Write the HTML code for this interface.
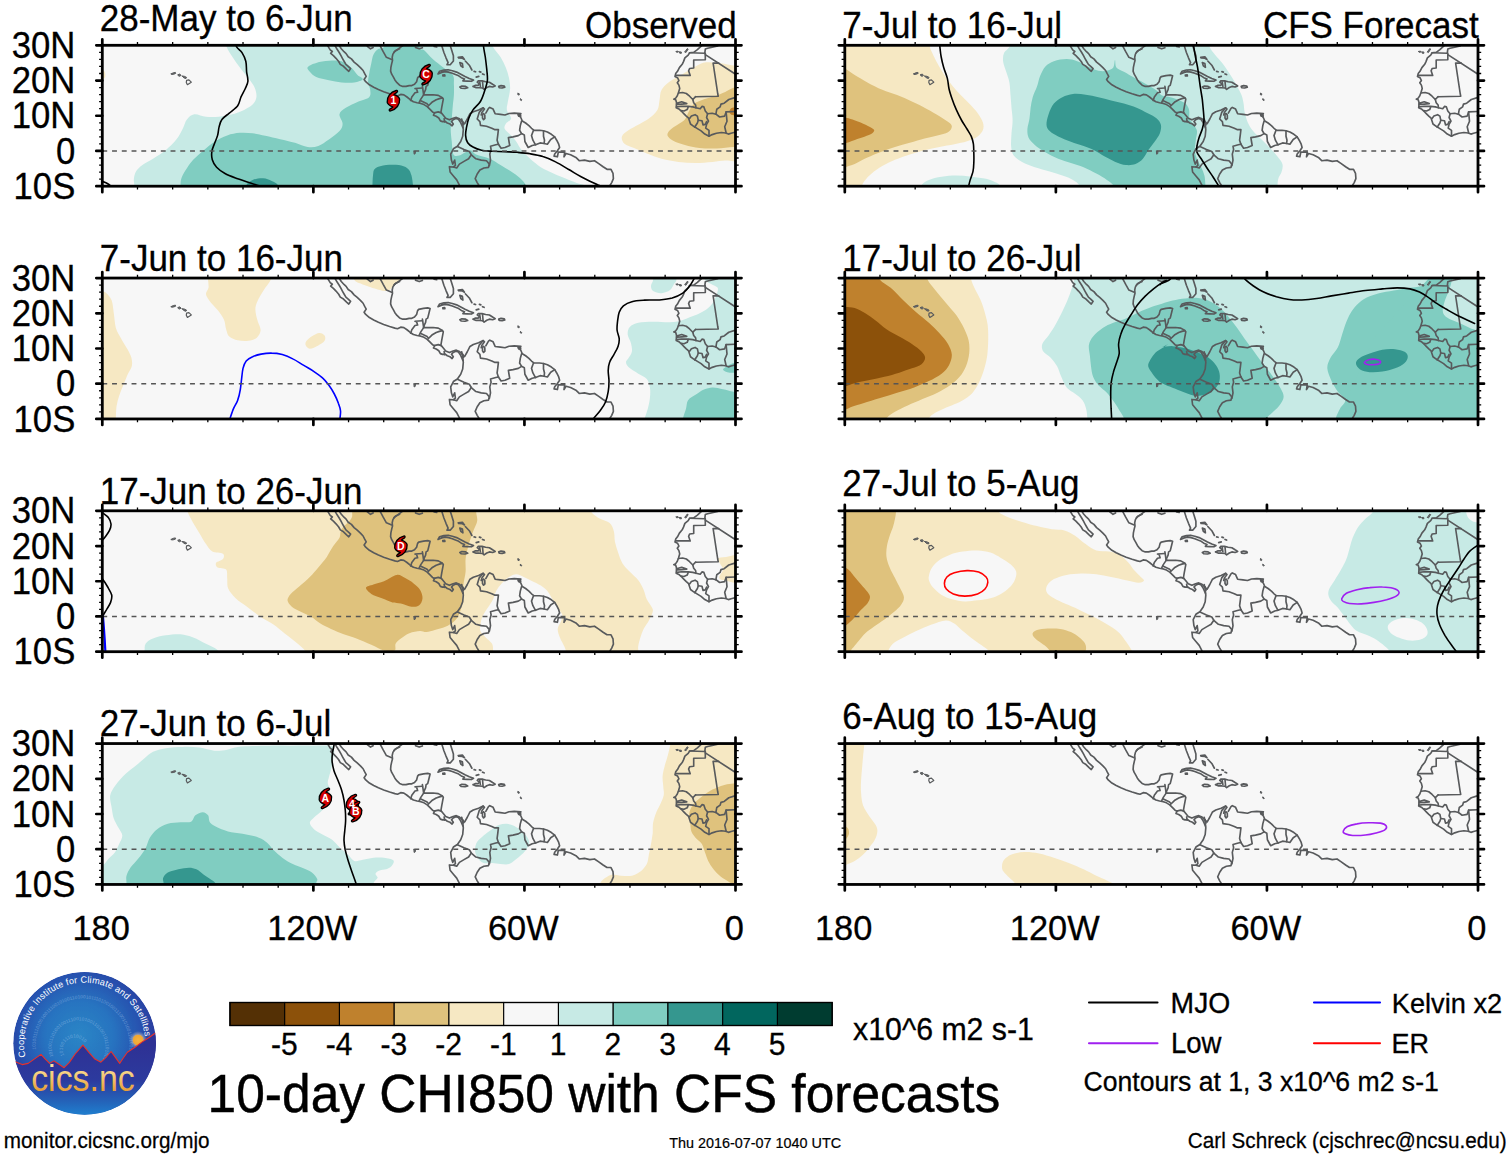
<!DOCTYPE html>
<html><head><meta charset="utf-8"><title>10-day CHI850 with CFS forecasts</title>
<style>html,body{margin:0;padding:0;background:#fff;}body{width:1510px;height:1158px;overflow:hidden;font-family:"Liberation Sans",sans-serif;}svg{display:block;}text{font-family:"Liberation Sans",sans-serif;fill:#000;}</style></head><body>
<svg width="1510" height="1158" viewBox="0 0 1510 1158">
<rect width="1510" height="1158" fill="#fff"/>
<defs>
<clipPath id="pc"><rect x="0" y="0" width="633.2" height="140.9"/></clipPath>
<g id="coast" fill="none" stroke="#585a5c" stroke-width="1.65" stroke-linejoin="round" stroke-linecap="round">
<path d="M225.3 0.3 L227.9 4.6 L230.0 6.2 L228.4 8.1 L231.1 10.4 L233.7 13.0 L236.4 16.2 L238.0 19.1 L241.2 21.0 L244.3 24.0 L246.5 26.0 L248.3 23.3 L245.9 21.0 L243.6 19.1 L241.9 16.2 L240.1 13.0 L238.7 10.4 L236.9 7.2 L234.8 4.0 L232.7 0.3"/>
<path d="M236.9 0.3 L239.0 3.5 L241.7 6.4 L243.8 8.3 L245.9 11.5 L249.1 13.6 L251.8 16.8 L254.9 19.4 L258.1 22.3 L260.8 25.2 L262.4 28.4 L263.9 31.1 L261.8 34.2 L263.4 36.4 L267.1 39.5 L271.4 42.0 L276.1 44.3 L281.4 46.4 L287.3 48.5 L292.6 50.1 L295.2 50.7 L298.4 49.1 L301.6 49.6 L304.7 51.7 L307.9 54.4 L311.1 56.5 L314.8 57.5 L318.5 58.1 L321.7 59.3 L324.9 61.3 L327.5 63.9 L330.2 66.6 L332.3 67.6 L331.2 69.9 L333.9 71.0 L336.5 72.7 L338.1 75.6 L340.2 76.3 L342.9 76.1 L345.0 77.7 L347.7 78.7 L349.8 80.5 L351.0 78.7 L349.2 76.3 L350.8 74.5 L353.5 73.1 L356.1 74.0 L358.0 76.6 L359.5 79.8 L360.6 82.4"/>
<path d="M300.5 0.3 L295.7 3.8 L292.3 6.2 L290.6 8.8 L289.9 12.0 L290.2 15.2 L289.4 18.3 L288.6 22.0 L288.3 25.8 L289.4 28.9 L291.0 31.6 L292.6 34.6 L294.7 37.4 L297.3 39.9 L300.5 41.1 L303.7 41.1 L306.9 40.3 L309.5 40.3 L312.2 39.0 L314.3 36.4 L315.3 32.6 L316.4 31.3 L321.2 30.3 L325.4 29.8 L327.8 30.5 L327.0 33.7 L326.2 36.9 L325.4 40.1 L323.8 41.1 L323.3 44.3 L322.0 47.0 L321.2 49.6 L325.4 49.6 L330.7 49.4 L336.0 50.1 L339.7 52.2 L341.0 53.8 L340.2 58.1 L339.4 62.3 L338.6 67.1 L340.8 69.7 L343.4 72.9 L347.1 74.5 L350.8 72.9 L354.0 72.1 L357.2 73.4 L359.8 76.1 L362.0 78.2"/>
<path d="M289.4 14.1 L284.1 12.0 L280.9 6.4 L277.7 0.3"/>
<path d="M265.0 1.1 L268.2 3.5 L270.8 2.1"/>
<path d="M291.5 7.2 L293.6 5.1 L297.3 3.5"/>
<path d="M313.2 2.1 L316.9 3.5 L320.1 2.4"/>
<path d="M331.8 1.1 L334.4 1.7"/>
<path d="M308.4 55.1 L309.5 51.7 L312.7 47.5 L315.3 47.0 L314.3 43.8 L312.7 43.2 L320.1 42.7"/>
<path d="M320.1 41.1 L320.6 44.3 L321.2 48.5"/>
<path d="M321.7 49.1 L318.5 53.8 L316.9 57.0"/>
<path d="M318.5 55.4 L324.3 58.1 L325.9 59.7"/>
<path d="M325.9 60.7 L329.6 57.0 L333.9 54.4 L337.1 53.3 L340.2 52.6"/>
<path d="M331.8 67.6 L336.0 66.6 L339.0 67.6"/>
<path d="M341.8 73.4 L342.4 76.6"/>
<path d="M360.4 76.1 L361.2 79.3"/>
<path d="M339.4 0.3 L341.6 7.2 L343.7 12.5 L345.8 17.3 L344.7 19.4 L347.9 19.4 L351.1 15.7 L351.1 10.4 L349.5 5.1 L347.9 0.3"/>
<path d="M355.9 12.0 L360.1 11.5 L362.2 14.1 L360.1 13.0 L356.4 12.7"/>
<path d="M357.5 17.3 L360.1 18.3 L360.6 22.0 L358.5 20.5 L357.5 17.3"/>
<path d="M363.0 15.7 L367.0 19.9 L369.6 24.7"/>
<path d="M371.8 26.1 L373.3 26.5"/>
<path d="M377.1 26.3 L378.6 26.8"/>
<path d="M380.2 28.6 L381.8 29.3"/>
<path d="M373.9 31.8 L376.5 31.1"/>
<path d="M335.7 28.6 L337.3 26.0 L341.6 24.7 L345.8 24.4 L350.0 25.4 L354.3 26.8 L358.5 28.9 L362.7 31.1 L367.0 33.2 L371.2 34.8 L369.1 36.0 L364.9 35.8 L360.6 35.6 L362.2 33.7 L359.0 32.4 L356.4 30.5 L353.2 29.3 L350.0 27.9 L346.3 26.8 L342.6 26.3 L339.4 27.1 L335.7 28.6"/>
<path d="M340.5 29.7 L342.4 29.5 L342.6 30.7 L340.7 30.7 L340.5 29.7"/>
<path d="M357.5 41.7 L359.6 40.8 L363.3 41.1 L365.4 42.4 L362.7 43.2 L359.0 43.0 L357.5 41.7"/>
<path d="M370.7 41.1 L372.8 40.1 L376.0 40.1 L377.1 38.5 L374.9 36.9 L376.0 35.6 L379.7 35.6 L383.4 36.4 L387.1 36.9 L390.3 39.0 L392.9 40.6 L390.3 41.7 L387.1 41.1 L384.5 42.2 L381.8 44.1 L380.2 42.7 L377.1 42.4 L373.9 42.4 L370.7 41.1"/>
<path d="M380.2 36.0 L380.8 42.7"/>
<path d="M377.4 36.7 L378.1 41.1"/>
<path d="M396.4 41.1 L398.8 40.3 L402.0 40.7 L402.5 42.0 L399.8 42.7 L396.9 42.4 L396.4 41.1"/>
<path d="M359.4 73.7 L360.4 78.4 L361.0 84.3 L360.4 90.9 L358.4 96.2 L355.1 100.9 L351.1 103.5 L348.4 108.8 L349.1 114.8 L350.4 118.8 L352.4 114.8 L353.1 120.1 L351.1 121.7 L347.1 121.4 L347.8 126.7 L351.1 130.7 L354.4 134.6 L357.1 139.9"/>
<path d="M355.1 101.3 L361.7 104.2 L367.0 106.2 L369.0 109.5 L366.3 113.5 L361.7 116.1 L357.1 118.8 L354.4 122.7 L351.1 121.7"/>
<path d="M369.0 109.5 L373.6 113.5 L378.9 114.8 L384.2 115.4 L386.9 118.8 L386.2 122.1 L381.6 122.7 L377.6 124.7 L374.9 128.7 L372.9 133.3 L374.9 137.3 L376.5 139.9"/>
<path d="M387.1 120.3 L388.2 114.8 L387.5 108.8 L388.8 104.2 L388.2 100.9 L393.5 99.5 L396.1 98.9"/>
<path d="M380.9 62.5 L376.9 67.1 L374.9 73.7 L377.6 76.4 L378.2 80.1 L384.2 81.0 L389.5 83.0 L392.2 84.3 L396.1 84.3 L395.5 89.6 L394.8 94.9 L396.1 98.9"/>
<path d="M396.1 98.9 L398.8 102.9 L402.7 102.2 L407.4 100.2 L406.7 96.2 L406.1 92.3 L410.7 91.6 L416.0 90.3 L419.3 88.3"/>
<path d="M419.3 75.7 L418.0 80.3 L417.3 85.0 L419.3 88.3 L422.0 89.6 L422.6 96.2 L425.9 102.2 L429.9 100.2 L433.2 99.5"/>
<path d="M431.2 85.0 L429.2 90.3 L430.6 94.9 L433.2 99.5 L437.8 97.6 L441.8 98.2"/>
<path d="M441.2 85.6 L441.2 90.9 L442.2 94.9 L441.8 98.2 L445.1 98.9 L448.4 94.2 L452.4 91.6"/>
<path d="M362.4 78.4 L365.0 73.7 L367.7 68.4 L371.0 66.4 L376.3 64.7 L380.9 62.5 L382.2 63.8 L379.6 67.1 L378.9 69.7"/>
<path d="M380.2 69.1 L381.3 68.2 L382.5 69.7 L382.6 73.1 L381.3 74.4 L380.2 72.7 L380.2 69.1"/>
<path d="M383.5 67.8 L386.2 63.1 L387.5 62.1 L390.8 63.8 L392.8 68.4 L398.1 69.1 L402.7 69.7 L406.7 68.2 L412.0 67.8 L418.6 68.2 L416.3 69.7 L418.6 72.4 L420.0 75.7 L423.3 77.7 L426.6 80.3 L429.2 83.0 L431.9 85.0 L437.2 85.0 L441.2 85.4 L445.1 86.7 L449.1 89.0 L452.4 91.6 L454.4 94.9 L456.4 98.9 L457.3 102.2 L455.1 105.5 L452.4 108.8 L451.8 110.8 L455.1 111.5 L456.0 106.8 L462.4 106.8 L461.7 111.5 L463.7 108.2 L468.3 109.5 L473.6 112.1 L476.9 115.4 L482.2 114.8 L487.5 116.1 L492.2 115.4 L496.1 118.1 L500.8 121.4 L504.7 124.0 L508.7 124.0 L510.7 128.0 L511.1 133.3 L509.4 137.3 L507.8 139.9"/>
<path d="M415.7 69.1 L418.0 68.7 L418.4 70.8 L416.3 70.8 L415.7 69.1"/>
<path d="M599.7 0.1 L595.1 4.3 L591.4 7.0 L587.3 7.5 L585.9 9.8 L582.6 12.6 L581.2 16.3 L579.9 19.0 L577.1 22.3 L575.2 26.0 L573.4 28.3 L572.7 31.1 L575.2 32.4 L576.6 35.2 L575.0 37.5 L576.6 39.8 L577.4 43.1 L576.2 47.2 L575.0 50.5 L573.4 52.8 L571.5 53.9 L573.4 54.4 L574.3 57.4 L573.9 62.5 L577.1 64.0 L579.4 66.2 L581.7 68.5 L584.0 70.8 L586.3 72.9 L587.3 75.9 L588.2 78.7 L591.4 81.0 L595.1 83.3 L598.8 85.6 L602.5 88.8 L606.7 90.9 L609.9 89.3 L614.1 87.9 L619.1 87.2 L623.3 87.7 L626.1 88.8 L628.8 87.9 L632.5 87.0"/>
<path d="M587.3 7.5 L602.5 7.9 L603.0 3.8 L605.3 2.9 L609.9 1.9 L615.4 0.6"/>
<path d="M603.0 7.9 L603.0 14.4 L591.4 14.7 L591.4 22.7 L587.3 23.2 L586.3 25.5 L587.9 30.1 L573.4 30.1"/>
<path d="M603.0 9.3 L632.5 28.5"/>
<path d="M616.4 17.8 L610.8 17.7 L615.4 48.2 L615.9 50.9 L593.3 51.4"/>
<path d="M576.2 47.7 L580.3 47.2 L584.0 48.2 L587.3 50.9 L590.5 54.2 L593.3 51.4"/>
<path d="M590.5 54.2 L591.4 57.4 L593.3 59.7 L593.7 62.5"/>
<path d="M574.3 57.9 L579.4 56.5 L584.5 58.3 L579.4 58.8 L574.3 59.2"/>
<path d="M574.3 61.6 L579.4 60.9 L585.9 61.1 L590.5 61.6 L593.7 62.5 L597.9 63.4 L599.7 61.1 L601.6 61.6 L603.0 65.7 L605.3 68.5 L609.9 68.0 L613.6 68.9"/>
<path d="M585.9 61.6 L584.9 64.3 L581.7 65.7 L578.9 65.3"/>
<path d="M587.3 73.1 L589.1 70.8 L592.8 69.4 L595.1 70.8 L596.0 75.0 L595.1 77.7 L593.3 80.5 L592.3 81.9"/>
<path d="M596.0 75.0 L599.7 75.4 L600.7 79.6 L603.0 79.1 L604.3 76.3"/>
<path d="M605.3 68.5 L604.3 72.2 L606.2 75.9 L604.3 79.1 L603.4 82.8 L606.7 85.1 L606.7 90.9"/>
<path d="M613.6 68.9 L614.5 63.9 L617.8 61.6 L618.7 58.8 L621.9 57.9 L626.5 54.2 L632.5 52.3"/>
<path d="M613.6 68.9 L617.3 71.7 L622.4 70.8 L623.8 66.6 L632.5 66.2"/>
<path d="M623.8 66.6 L624.7 75.9 L622.4 81.4 L623.8 87.4"/>
<path d="M311.6 105.8 L313.2 106.0 L312.9 108.4 L311.8 108.9 L311.6 105.8" stroke-width="1.0" fill="#6a6c6e"/>
<path d="M415.7 48.0 L417.0 48.5 L416.8 49.8 L415.5 49.4 L415.7 48.0" stroke-width="1.0" fill="#6a6c6e"/>
<path d="M418.1 53.6 L419.5 54.5 L419.1 55.3 L417.8 54.5 L418.1 53.6" stroke-width="1.0" fill="#6a6c6e"/>
<path d="M573.9 6.1 L575.7 5.8 L576.2 6.7 L574.3 7.0 L573.9 6.1" stroke-width="1.0" fill="#6a6c6e"/>
<path d="M577.1 6.7 L578.9 6.6 L579.2 7.9 L577.5 8.0 L577.1 6.7" stroke-width="1.0" fill="#6a6c6e"/>
<path d="M582.6 6.6 L584.9 3.3 L585.9 3.8 L583.6 7.3 L582.6 6.6" stroke-width="1.0" fill="#6a6c6e"/>
<path d="M68.9 28.5 L71.0 27.5 L73.1 27.1 L73.4 28.1 L71.5 28.9 L69.2 29.2 L68.9 28.5" stroke-width="1.0" fill="#6a6c6e"/>
<path d="M75.8 29.4 L77.4 28.8 L78.7 30.0 L77.4 31.0 L76.0 30.5 L75.8 29.4" stroke-width="1.0" fill="#6a6c6e"/>
<path d="M79.8 30.7 L82.1 31.0 L84.3 32.1 L83.7 33.2 L81.6 32.6 L79.8 30.7" stroke-width="1.0" fill="#6a6c6e"/>
<path d="M84.3 35.0 L86.6 34.5 L89.0 36.9 L85.1 39.4 L84.0 37.1 L84.3 35.0" stroke-width="1.2" fill="none"/>
</g>
<g id="frame" stroke="#000" fill="none">
<line x1="0" y1="105.67" x2="633.20" y2="105.67" stroke="#555" stroke-width="1.4" stroke-dasharray="4.9 4.85"/>
<rect x="0" y="0" width="633.20" height="140.90" stroke-width="2.8"/>
<path d="M-6.00 140.90 H0.00 M633.20 140.90 H639.20" stroke-width="2.7" stroke-linecap="round"/>
<path d="M-3.20 133.85 H0.00 M633.20 133.85 H636.40" stroke-width="1.3"/>
<path d="M-3.20 126.81 H0.00 M633.20 126.81 H636.40" stroke-width="1.3"/>
<path d="M-3.20 119.77 H0.00 M633.20 119.77 H636.40" stroke-width="1.3"/>
<path d="M-3.20 112.72 H0.00 M633.20 112.72 H636.40" stroke-width="1.3"/>
<path d="M-6.00 105.67 H0.00 M633.20 105.67 H639.20" stroke-width="2.7" stroke-linecap="round"/>
<path d="M-3.20 98.63 H0.00 M633.20 98.63 H636.40" stroke-width="1.3"/>
<path d="M-3.20 91.58 H0.00 M633.20 91.58 H636.40" stroke-width="1.3"/>
<path d="M-3.20 84.54 H0.00 M633.20 84.54 H636.40" stroke-width="1.3"/>
<path d="M-3.20 77.50 H0.00 M633.20 77.50 H636.40" stroke-width="1.3"/>
<path d="M-6.00 70.45 H0.00 M633.20 70.45 H639.20" stroke-width="2.7" stroke-linecap="round"/>
<path d="M-3.20 63.41 H0.00 M633.20 63.41 H636.40" stroke-width="1.3"/>
<path d="M-3.20 56.36 H0.00 M633.20 56.36 H636.40" stroke-width="1.3"/>
<path d="M-3.20 49.31 H0.00 M633.20 49.31 H636.40" stroke-width="1.3"/>
<path d="M-3.20 42.27 H0.00 M633.20 42.27 H636.40" stroke-width="1.3"/>
<path d="M-6.00 35.23 H0.00 M633.20 35.23 H639.20" stroke-width="2.7" stroke-linecap="round"/>
<path d="M-3.20 28.18 H0.00 M633.20 28.18 H636.40" stroke-width="1.3"/>
<path d="M-3.20 21.13 H0.00 M633.20 21.13 H636.40" stroke-width="1.3"/>
<path d="M-3.20 14.09 H0.00 M633.20 14.09 H636.40" stroke-width="1.3"/>
<path d="M-3.20 7.04 H0.00 M633.20 7.04 H636.40" stroke-width="1.3"/>
<path d="M-6.00 0.00 H0.00 M633.20 0.00 H639.20" stroke-width="2.7" stroke-linecap="round"/>
<path d="M0.00 -6.00 V0.00 M0.00 140.90 V146.90" stroke-width="2.7" stroke-linecap="round"/>
<path d="M35.18 -3.20 V0.00 M35.18 140.90 V144.10" stroke-width="1.3"/>
<path d="M70.36 -3.20 V0.00 M70.36 140.90 V144.10" stroke-width="1.3"/>
<path d="M105.53 -3.20 V0.00 M105.53 140.90 V144.10" stroke-width="1.3"/>
<path d="M140.71 -3.20 V0.00 M140.71 140.90 V144.10" stroke-width="1.3"/>
<path d="M175.89 -3.20 V0.00 M175.89 140.90 V144.10" stroke-width="1.3"/>
<path d="M211.07 -6.00 V0.00 M211.07 140.90 V146.90" stroke-width="2.7" stroke-linecap="round"/>
<path d="M246.24 -3.20 V0.00 M246.24 140.90 V144.10" stroke-width="1.3"/>
<path d="M281.42 -3.20 V0.00 M281.42 140.90 V144.10" stroke-width="1.3"/>
<path d="M316.60 -3.20 V0.00 M316.60 140.90 V144.10" stroke-width="1.3"/>
<path d="M351.78 -3.20 V0.00 M351.78 140.90 V144.10" stroke-width="1.3"/>
<path d="M386.96 -3.20 V0.00 M386.96 140.90 V144.10" stroke-width="1.3"/>
<path d="M422.13 -6.00 V0.00 M422.13 140.90 V146.90" stroke-width="2.7" stroke-linecap="round"/>
<path d="M457.31 -3.20 V0.00 M457.31 140.90 V144.10" stroke-width="1.3"/>
<path d="M492.49 -3.20 V0.00 M492.49 140.90 V144.10" stroke-width="1.3"/>
<path d="M527.67 -3.20 V0.00 M527.67 140.90 V144.10" stroke-width="1.3"/>
<path d="M562.84 -3.20 V0.00 M562.84 140.90 V144.10" stroke-width="1.3"/>
<path d="M598.02 -3.20 V0.00 M598.02 140.90 V144.10" stroke-width="1.3"/>
<path d="M633.20 -6.00 V0.00 M633.20 140.90 V146.90" stroke-width="2.7" stroke-linecap="round"/>
</g>
<g id="tc"><path d="M-6.2 1.5C-6.6 -4 -3 -8.6 2.8 -10.2C4.2 -10.5 4.6 -9.2 3.6 -8.4C2.2 -7.6 1.2 -6.8 0.6 -6.2C4 -5.4 6.2 -2.5 6.2 -1.5C6.6 4 3 8.6 -2.8 10.2C-4.2 10.5 -4.6 9.2 -3.6 8.4C-2.2 7.6 -1.2 6.8 -0.6 6.2C-4 5.4 -6.2 2.5 -6.2 1.5Z" fill="#d40000" stroke="#000" stroke-width="1.35" stroke-linejoin="round"/></g>
</defs>
<g transform="translate(102.30 45.30)">
<g clip-path="url(#pc)">
<rect x="0" y="0" width="633.2" height="140.9" fill="#f7f7f7"/>
<path d="M122.7 -7.4C123.0 -5.9 123.2 -1.5 124.4 1.7C125.7 4.9 128.0 8.2 130.2 11.7C132.3 15.1 134.9 18.7 137.6 22.2C140.2 25.8 143.6 29.5 146.0 32.8C148.5 36.2 151.1 39.2 152.4 42.4C153.7 45.6 154.5 49.1 154.1 51.9C153.7 54.7 152.3 57.2 150.3 59.3C148.2 61.5 145.3 63.0 141.8 64.6C138.3 66.3 133.3 68.2 129.1 69.3C124.9 70.4 120.6 71.1 116.4 71.4C112.1 71.8 107.7 71.8 103.7 71.4C99.6 71.0 95.2 68.4 92.0 68.9C88.8 69.3 86.5 71.7 84.6 74.2C82.6 76.6 82.1 80.4 80.3 83.7C78.6 87.1 76.8 90.8 74.0 94.3C71.2 97.8 67.3 101.7 63.4 104.9C59.5 108.1 54.6 110.9 50.7 113.4C46.8 115.8 42.9 117.6 40.1 119.7C37.3 121.9 35.1 123.8 33.7 126.1C32.3 128.4 31.9 131.2 31.6 133.5C31.3 135.8 31.9 137.2 32.0 139.9C32.1 142.5 -43.3 147.8 32.2 149.4C107.8 151.0 410.0 150.9 485.1 149.4C560.2 147.9 484.8 142.4 483.0 140.5C481.2 138.6 477.7 138.9 474.5 137.7C471.3 136.6 467.8 135.1 463.9 133.5C460.0 131.9 455.4 130.2 451.2 128.2C447.0 126.3 442.4 124.3 438.5 121.9C434.6 119.4 431.1 116.2 427.9 113.4C424.7 110.5 421.7 107.7 419.4 104.9C417.1 102.1 415.9 98.9 414.1 96.4C412.4 93.9 410.8 92.2 408.8 90.1C406.9 87.9 403.4 85.6 402.5 83.7C401.6 81.8 402.5 80.2 403.5 78.4C404.6 76.6 408.6 75.4 408.8 73.1C409.0 70.8 405.1 67.5 404.6 64.6C404.1 61.8 405.1 59.7 405.6 56.2C406.2 52.6 407.6 47.3 407.8 43.4C407.9 39.6 407.4 36.4 406.7 32.8C406.0 29.3 404.9 25.8 403.5 22.2C402.1 18.7 400.3 15.1 398.2 11.7C396.1 8.2 392.4 4.9 390.8 1.7C389.2 -1.5 389.0 -5.9 388.7 -7.4Z" fill="#c7eae5"/>
<path d="M78.2 149.4C78.2 147.8 78.1 142.7 78.2 139.9C78.4 137.0 78.2 135.3 79.3 132.4C80.3 129.6 82.6 125.9 84.6 122.9C86.5 119.9 88.1 117.4 90.9 114.4C93.8 111.4 98.0 107.9 101.5 104.9C105.1 101.9 108.3 98.9 112.1 96.4C116.0 93.9 120.6 91.5 124.9 90.1C129.1 88.6 133.3 87.9 137.6 87.5C141.8 87.2 146.0 87.5 150.3 87.9C154.5 88.4 158.4 89.5 163.0 90.5C167.6 91.5 172.9 92.7 177.8 93.9C182.8 95.0 188.1 96.2 192.7 97.5C197.3 98.8 201.5 101.2 205.4 101.7C209.3 102.2 212.4 101.9 216.0 100.7C219.5 99.4 223.0 96.8 226.6 94.3C230.1 91.8 234.9 88.5 237.2 85.8C239.5 83.2 240.3 81.2 240.3 78.4C240.3 75.6 236.6 71.5 237.2 68.9C237.7 66.2 240.3 64.6 243.5 62.5C246.7 60.4 252.4 57.9 256.2 56.2C260.1 54.4 264.9 53.9 266.8 51.9C268.8 50.0 268.1 47.0 267.9 44.5C267.7 42.0 266.0 39.7 265.8 37.1C265.6 34.4 266.3 31.8 266.8 28.6C267.4 25.4 268.3 21.2 269.0 18.0C269.7 14.8 270.0 11.8 271.1 9.5C272.1 7.2 273.5 5.5 275.3 4.2C277.1 2.9 280.3 3.6 281.7 1.7C283.1 -0.2 278.5 -5.9 283.8 -7.4C289.1 -8.9 307.8 -9.2 313.5 -7.4C319.1 -5.7 316.3 1.1 317.7 3.2C319.1 5.2 319.8 3.1 321.9 4.9C324.1 6.6 327.2 10.9 330.4 13.8C333.6 16.7 337.7 19.6 341.0 22.2C344.4 24.9 348.8 26.8 350.5 29.7C352.3 32.5 351.4 35.8 351.6 39.2C351.8 42.6 351.8 46.3 351.6 49.8C351.4 53.3 350.9 56.5 350.5 60.4C350.2 64.3 349.8 69.2 349.5 73.1C349.1 77.0 348.4 79.8 348.4 83.7C348.4 87.6 349.0 92.2 349.5 96.4C349.9 100.7 349.9 106.8 351.2 109.1C352.4 111.4 354.9 110.5 356.9 110.2C358.9 109.8 361.3 107.9 363.3 107.0C365.2 106.1 366.8 104.5 368.6 104.9C370.3 105.3 370.7 107.7 373.9 109.1C377.0 110.5 383.6 111.6 387.6 113.4C391.7 115.1 394.7 117.6 398.2 119.7C401.8 121.9 405.6 124.0 408.8 126.1C412.0 128.2 414.8 130.2 417.3 132.4C419.8 134.7 422.2 137.0 423.7 139.9C425.1 142.7 425.4 147.8 425.8 149.4Z" fill="#80cdc1"/>
<path d="M205.4 21.8C206.4 20.3 210.3 18.6 213.9 17.6C217.4 16.5 222.3 15.8 226.6 15.5C230.8 15.2 235.6 14.8 239.3 15.9C243.0 17.0 246.2 20.0 248.8 22.2C251.5 24.5 253.2 27.7 255.2 29.7C257.1 31.6 261.0 32.7 260.5 33.9C260.0 35.1 255.5 36.6 252.0 37.1C248.5 37.6 243.5 37.4 239.3 37.1C235.1 36.7 230.8 35.8 226.6 35.0C222.3 34.1 217.0 33.2 213.9 31.8C210.7 30.4 208.9 28.1 207.5 26.5C206.1 24.8 204.3 23.3 205.4 21.8Z" fill="#80cdc1"/>
<path d="M270.0 149.4C270.1 146.2 270.1 134.7 270.7 130.3C271.2 125.9 271.0 124.7 273.2 122.9C275.4 121.1 279.9 120.3 283.8 119.7C287.7 119.2 293.0 119.2 296.5 119.7C300.0 120.3 302.9 121.1 305.0 122.9C307.1 124.7 308.1 125.9 309.2 130.3C310.4 134.7 311.3 146.2 311.8 149.4Z" fill="#35978f"/>
<path d="M142.9 149.4C143.0 147.8 142.7 142.3 143.9 139.9C145.2 137.4 147.5 135.7 150.3 134.6C153.1 133.4 157.7 132.7 160.9 132.9C164.1 133.0 166.9 134.5 169.4 135.6C171.8 136.8 174.5 137.6 175.7 139.9C176.9 142.2 176.6 147.8 176.8 149.4Z" fill="#35978f"/>
<path d="M-1.2 23.3C-0.1 22.8 1.7 25.1 2.4 26.5C3.0 27.9 3.4 30.3 2.8 31.8C2.2 33.3 -0.0 35.7 -1.2 35.4C-2.4 35.0 -4.4 31.7 -4.4 29.7C-4.4 27.7 -2.4 23.8 -1.2 23.3Z" fill="#f6e8c3"/>
<path d="M644.1 20.1C641.9 20.1 635.6 20.5 631.3 20.1C627.1 19.8 623.2 18.5 618.6 18.0C614.0 17.5 608.0 16.4 603.8 17.0C599.6 17.5 597.1 19.2 593.2 21.2C589.3 23.1 584.7 26.1 580.5 28.6C576.2 31.1 571.3 33.4 567.8 36.0C564.2 38.7 561.1 41.3 559.3 44.5C557.5 47.7 557.9 51.7 557.2 55.1C556.5 58.5 556.8 61.6 555.1 64.6C553.3 67.6 550.1 70.5 546.6 73.1C543.0 75.8 537.7 78.2 533.9 80.5C530.0 82.8 525.7 84.9 523.3 86.9C520.9 88.8 519.6 90.2 519.4 92.2C519.3 94.1 520.2 96.8 522.2 98.5C524.3 100.3 528.0 101.2 531.7 102.8C535.4 104.4 539.9 106.3 544.5 108.1C549.0 109.8 554.0 112.0 559.3 113.4C564.6 114.8 570.6 115.8 576.2 116.6C581.9 117.3 587.5 117.6 593.2 117.6C598.8 117.6 605.2 117.0 610.2 116.6C615.1 116.1 619.3 115.2 622.9 115.1C626.4 115.0 627.8 115.7 631.3 115.9C634.9 116.2 641.9 116.4 644.1 116.6Z" fill="#f6e8c3"/>
<path d="M644.1 40.3C641.9 40.6 634.9 41.3 631.3 42.4C627.8 43.4 626.0 45.2 622.9 46.6C619.7 48.0 615.8 49.6 612.3 50.9C608.7 52.1 605.0 52.8 601.7 54.0C598.3 55.3 594.6 56.3 592.1 58.3C589.7 60.2 588.4 63.0 586.8 65.7C585.2 68.3 584.5 71.9 582.6 74.2C580.7 76.5 577.7 77.7 575.2 79.5C572.7 81.2 569.4 83.0 567.8 84.8C566.1 86.5 564.7 88.3 565.2 90.1C565.8 91.8 568.0 93.8 570.9 95.4C573.8 97.0 578.2 98.4 582.6 99.6C587.0 100.8 592.1 102.2 597.4 102.8C602.7 103.4 608.7 103.4 614.4 103.2C620.0 103.0 626.4 102.0 631.3 101.7C636.3 101.5 641.9 101.7 644.1 101.7Z" fill="#dfc27d"/>
<path d="M639.8 61.5C638.4 61.6 633.3 61.7 631.3 62.1C629.4 62.4 628.9 62.8 628.2 63.6C627.5 64.4 627.0 65.8 627.1 66.8C627.2 67.7 628.1 68.8 628.8 69.3C629.5 69.8 629.5 69.8 631.3 69.9C633.2 70.1 638.4 70.1 639.8 70.1Z" fill="#bf812d"/>
<use href="#coast"/>
<path d="M133.3 -4.2C133.5 -3.3 133.3 -0.2 134.4 1.7C135.4 3.6 138.2 5.0 139.7 7.4C141.2 9.8 142.7 12.7 143.5 15.9C144.3 19.1 144.0 23.1 144.3 26.5C144.7 29.8 145.9 33.2 145.6 36.0C145.4 38.9 144.0 40.8 142.9 43.4C141.7 46.1 139.9 49.1 138.6 51.9C137.4 54.7 137.4 57.7 135.4 60.4C133.5 63.0 129.6 65.5 127.0 67.8C124.3 70.1 121.2 71.9 119.6 74.2C117.9 76.5 117.5 78.9 116.8 81.6C116.1 84.2 116.1 87.2 115.3 90.1C114.5 92.9 113.1 95.9 112.1 98.5C111.2 101.2 109.9 103.3 109.6 106.0C109.2 108.6 109.2 111.8 110.0 114.4C110.8 117.1 112.1 119.6 114.3 121.9C116.4 124.1 119.2 126.3 122.7 128.2C126.3 130.2 131.2 131.9 135.4 133.5C139.7 135.1 144.6 136.6 148.2 137.7C151.7 138.9 153.8 139.6 156.6 140.5C159.5 141.4 163.7 142.6 165.1 143.0" fill="none" stroke="#000" stroke-width="1.60" stroke-linejoin="round" stroke-linecap="round"/>
<path d="M-4.4 133.5C-3.9 133.9 -2.7 134.9 -1.2 135.6C0.2 136.3 2.5 136.9 4.1 137.7C5.6 138.6 7.2 139.6 8.3 140.5C9.4 141.4 10.1 142.6 10.4 143.0" fill="none" stroke="#000" stroke-width="1.60" stroke-linejoin="round" stroke-linecap="round"/>
<path d="M380.9 -4.2C380.9 -3.3 380.9 -1.0 381.3 1.7C381.6 4.3 382.4 7.9 383.0 11.7C383.5 15.4 384.1 20.5 384.5 24.4C384.8 28.3 385.4 31.4 385.1 35.0C384.7 38.5 383.5 42.0 382.3 45.6C381.2 49.1 380.0 53.0 378.1 56.2C376.2 59.3 372.6 61.8 370.7 64.6C368.7 67.5 367.5 70.3 366.4 73.1C365.4 75.9 364.9 78.8 364.3 81.6C363.8 84.4 363.1 87.4 363.3 90.1C363.4 92.7 364.1 95.5 365.4 97.5C366.6 99.4 368.4 100.5 370.7 101.7C373.0 103.0 376.0 104.2 379.2 104.9C382.3 105.6 385.9 105.7 389.8 106.0C393.6 106.2 398.2 106.2 402.5 106.4C406.7 106.6 410.9 106.7 415.2 107.0C419.4 107.4 423.7 107.8 427.9 108.5C432.1 109.2 436.4 109.9 440.6 111.3C444.9 112.6 449.1 114.4 453.3 116.6C457.6 118.7 461.8 121.5 466.0 124.0C470.3 126.4 474.5 129.1 478.8 131.4C483.0 133.7 488.3 136.2 491.5 137.7C494.7 139.3 495.7 139.6 497.8 140.5C500.0 141.4 503.1 142.6 504.2 143.0" fill="none" stroke="#000" stroke-width="1.60" stroke-linejoin="round" stroke-linecap="round"/>
<use href="#tc" x="291.1" y="55.4"/>
<use href="#tc" x="323.8" y="29.4"/>
<text x="291.1" y="59.2" font-size="10.5" font-weight="bold" text-anchor="middle" style="fill:#fff">1</text>
<text x="323.8" y="33.2" font-size="10.5" font-weight="bold" text-anchor="middle" style="fill:#fff">C</text>
</g>
<use href="#frame"/>

</g>
<text transform="translate(99.80 30.80) scale(1 1.045)" font-size="35.00" stroke="#000" stroke-width="0.30">28-May to 6-Jun</text>
<text transform="translate(75.30 57.90) scale(1 1.045)" font-size="34.70" text-anchor="end" stroke="#000" stroke-width="0.30">30N</text>
<text transform="translate(75.30 93.12) scale(1 1.045)" font-size="34.70" text-anchor="end" stroke="#000" stroke-width="0.30">20N</text>
<text transform="translate(75.30 128.35) scale(1 1.045)" font-size="34.70" text-anchor="end" stroke="#000" stroke-width="0.30">10N</text>
<text transform="translate(75.30 163.57) scale(1 1.045)" font-size="34.70" text-anchor="end" stroke="#000" stroke-width="0.30">0</text>
<text transform="translate(75.30 198.80) scale(1 1.045)" font-size="34.70" text-anchor="end" stroke="#000" stroke-width="0.30">10S</text>
<g transform="translate(102.30 278.05)">
<g clip-path="url(#pc)">
<rect x="0" y="0" width="633.2" height="140.9" fill="#f7f7f7"/>
<path d="M-6.5 11.9C-5.7 12.1 -3.0 12.4 -1.2 13.0C0.5 13.5 2.3 13.5 4.1 15.1C5.8 16.7 8.1 19.1 9.4 22.5C10.6 25.9 10.8 30.6 11.5 35.2C12.2 39.8 12.4 45.8 13.6 50.0C14.8 54.3 16.9 57.1 18.9 60.6C20.8 64.2 23.6 68.1 25.2 71.2C26.9 74.4 28.4 76.9 29.1 79.7C29.8 82.5 30.1 85.4 29.5 88.2C28.9 91.0 26.7 93.5 25.2 96.7C23.8 99.9 22.4 103.7 21.0 107.3C19.6 110.8 17.9 114.3 16.8 117.9C15.6 121.4 14.8 124.8 14.2 128.5C13.7 132.2 13.7 136.6 13.6 140.1C13.5 143.6 13.6 148.1 13.6 149.7L-8.0 148.9Z" fill="#f6e8c3"/>
<path d="M105.8 -7.2C105.8 -5.7 105.7 -0.9 105.8 1.9C105.9 4.8 106.6 7.4 106.2 9.8C105.9 12.2 103.4 13.8 103.7 16.1C103.9 18.4 106.0 20.9 107.9 23.6C109.8 26.2 113.0 29.0 115.3 32.0C117.6 35.0 120.3 38.4 121.7 41.6C123.1 44.8 122.9 48.3 123.8 51.1C124.7 53.9 125.0 56.7 127.0 58.5C128.9 60.4 132.3 61.6 135.4 62.3C138.6 63.0 142.9 63.2 146.0 62.8C149.2 62.3 152.5 61.4 154.5 59.6C156.6 57.8 158.2 54.8 158.3 52.2C158.5 49.5 156.4 46.5 155.6 43.7C154.8 40.9 153.8 37.9 153.5 35.2C153.1 32.6 152.8 30.6 153.5 27.8C154.2 25.0 156.1 21.3 157.7 18.3C159.3 15.3 161.2 12.5 163.0 9.8C164.8 7.1 167.1 4.8 168.3 1.9C169.5 -0.9 170.1 -5.7 170.4 -7.2Z" fill="#f6e8c3"/>
<path d="M204.3 62.8C205.4 61.3 207.5 59.4 209.6 58.1C211.7 56.8 214.9 55.0 217.0 54.9C219.2 54.8 221.5 56.2 222.3 57.5C223.2 58.8 223.4 61.1 222.3 62.8C221.3 64.4 218.5 66.1 216.0 67.4C213.5 68.8 209.6 70.9 207.5 70.8C205.4 70.7 203.8 68.3 203.3 67.0C202.7 65.7 203.3 64.2 204.3 62.8Z" fill="#f6e8c3"/>
<path d="M249.9 -7.2C250.2 -5.7 250.6 -0.2 252.0 1.9C253.4 4.1 255.9 4.4 258.4 5.5C260.8 6.7 264.4 7.8 266.8 8.7C269.3 9.6 270.7 10.1 273.2 10.8C275.7 11.6 279.4 12.8 281.7 13.0C284.0 13.1 285.2 13.0 287.0 11.9C288.7 10.8 290.3 8.3 292.3 6.6C294.2 4.9 297.2 4.2 298.6 1.9C300.0 -0.4 300.4 -5.7 300.7 -7.2Z" fill="#f6e8c3"/>
<path d="M550.8 -7.2C550.8 -5.7 551.2 -0.5 550.8 1.9C550.5 4.4 548.7 5.8 548.7 7.7C548.7 9.5 549.0 11.7 550.8 13.0C552.6 14.2 556.5 15.3 559.3 15.1C562.1 14.9 565.6 13.5 567.8 11.9C569.9 10.3 570.9 7.2 572.0 5.5C573.1 3.9 573.7 4.1 574.1 1.9C574.5 -0.2 574.5 -5.7 574.5 -7.2Z" fill="#c7eae5"/>
<path d="M600.6 -7.2C601.0 -5.7 601.1 -0.4 602.7 1.9C604.3 4.2 608.0 5.3 610.2 6.6C612.3 7.9 614.7 8.2 615.4 9.8C616.2 11.4 615.1 13.8 614.4 16.1C613.7 18.4 612.6 21.3 611.2 23.6C609.8 25.9 608.2 28.0 605.9 29.9C603.6 31.9 600.6 33.6 597.4 35.2C594.3 36.8 590.0 38.2 586.8 39.5C583.7 40.7 581.5 41.9 578.4 42.6C575.2 43.4 572.4 43.9 567.8 44.1C563.2 44.3 556.1 43.6 550.8 43.7C545.5 43.8 539.9 43.9 536.0 44.8C532.1 45.6 529.3 47.0 527.5 49.0C525.7 50.9 525.2 53.8 525.4 56.4C525.6 59.1 527.9 62.1 528.6 64.9C529.3 67.7 530.0 70.9 529.6 73.4C529.3 75.8 527.4 78.0 526.4 79.7C525.5 81.5 523.7 82.4 523.7 84.0C523.7 85.5 524.4 87.3 526.4 89.3C528.5 91.2 533.0 93.7 536.0 95.6C539.0 97.6 542.5 98.6 544.5 100.9C546.4 103.2 547.1 106.2 547.6 109.4C548.2 112.6 548.0 116.5 547.6 120.0C547.3 123.5 546.4 127.1 545.5 130.6C544.6 134.0 543.0 137.6 542.3 140.8C541.6 143.9 541.5 148.2 541.3 149.7L641.2 148.9L641.2 -8.0Z" fill="#c7eae5"/>
<path d="M579.4 149.7C579.6 148.2 579.8 143.9 580.5 140.8C581.2 137.6 582.8 133.7 583.7 130.6C584.5 127.5 584.2 124.4 585.8 122.1C587.4 119.8 590.5 118.6 593.2 116.8C595.8 115.0 598.8 112.7 601.7 111.5C604.5 110.3 607.0 109.5 610.2 109.4C613.3 109.3 617.2 110.4 620.7 111.1C624.3 111.8 627.5 113.0 631.3 113.6C635.2 114.2 641.9 114.5 644.1 114.7L641.2 148.9Z" fill="#80cdc1"/>
<path d="M644.1 82.9C641.9 83.3 634.5 84.1 631.3 85.0C628.2 85.9 626.8 87.1 625.0 88.2C623.2 89.3 620.7 90.4 620.7 91.4C620.7 92.4 623.2 93.6 625.0 94.1C626.8 94.7 628.2 94.4 631.3 94.6C634.5 94.7 641.9 94.9 644.1 95.0Z" fill="#80cdc1"/>
<use href="#coast"/>
<path d="M126.5 144.4C126.7 143.8 126.8 143.0 127.6 140.8C128.4 138.5 129.9 133.7 131.2 130.6C132.5 127.5 134.3 125.3 135.4 122.1C136.6 118.9 137.4 115.0 138.0 111.5C138.6 108.0 138.8 104.4 139.3 100.9C139.7 97.4 140.0 93.3 140.7 90.3C141.5 87.3 142.3 84.8 143.9 82.9C145.5 81.0 147.8 79.8 150.3 78.7C152.8 77.5 155.6 76.7 158.8 76.1C161.9 75.5 165.8 75.0 169.4 75.1C172.9 75.1 176.4 75.6 180.0 76.5C183.5 77.5 187.0 79.0 190.5 80.8C194.1 82.5 197.6 85.0 201.1 87.1C204.7 89.3 208.6 91.4 211.7 93.5C214.9 95.6 217.7 97.6 220.2 99.9C222.7 102.1 224.6 104.6 226.6 107.3C228.5 109.9 230.3 112.7 231.9 115.7C233.5 118.7 235.1 122.5 236.1 125.3C237.2 128.1 238.0 130.1 238.2 132.7C238.5 135.3 237.8 138.8 237.6 140.8C237.3 142.7 236.9 143.8 236.7 144.4" fill="none" stroke="#0000ff" stroke-width="1.60" stroke-linejoin="round" stroke-linecap="round"/>
<path d="M593.2 -1.9C592.8 -1.2 592.1 0.2 591.1 1.9C590.0 3.7 588.6 6.5 586.8 8.7C585.1 10.9 583.3 13.2 580.5 15.1C577.7 17.0 573.8 18.8 569.9 20.0C566.0 21.1 561.8 21.5 557.2 21.9C552.6 22.2 546.9 21.8 542.3 22.1C537.7 22.4 533.2 22.6 529.6 23.6C526.1 24.5 523.3 26.0 521.1 27.8C519.0 29.6 517.9 31.5 516.9 34.2C515.9 36.8 515.6 40.7 515.2 43.7C514.9 46.7 514.5 49.3 514.8 52.2C515.1 55.0 516.7 58.0 516.9 60.6C517.1 63.3 516.7 65.4 515.8 68.1C515.0 70.7 513.0 73.9 511.6 76.5C510.2 79.2 508.3 81.3 507.4 84.0C506.4 86.6 506.0 89.3 505.9 92.4C505.8 95.6 506.7 99.5 506.7 103.0C506.7 106.6 506.5 110.1 505.9 113.6C505.3 117.2 504.5 121.0 503.1 124.2C501.8 127.4 499.8 130.0 497.8 132.7C495.9 135.3 493.1 138.2 491.5 140.1C489.9 142.1 488.8 143.6 488.3 144.4" fill="none" stroke="#000" stroke-width="1.60" stroke-linejoin="round" stroke-linecap="round"/>
</g>
<use href="#frame"/>

</g>
<text transform="translate(99.80 270.75) scale(1 1.045)" font-size="35.00" stroke="#000" stroke-width="0.30">7-Jun to 16-Jun</text>
<text transform="translate(75.30 290.65) scale(1 1.045)" font-size="34.70" text-anchor="end" stroke="#000" stroke-width="0.30">30N</text>
<text transform="translate(75.30 325.88) scale(1 1.045)" font-size="34.70" text-anchor="end" stroke="#000" stroke-width="0.30">20N</text>
<text transform="translate(75.30 361.10) scale(1 1.045)" font-size="34.70" text-anchor="end" stroke="#000" stroke-width="0.30">10N</text>
<text transform="translate(75.30 396.33) scale(1 1.045)" font-size="34.70" text-anchor="end" stroke="#000" stroke-width="0.30">0</text>
<text transform="translate(75.30 431.55) scale(1 1.045)" font-size="34.70" text-anchor="end" stroke="#000" stroke-width="0.30">10S</text>
<g transform="translate(102.30 510.80)">
<g clip-path="url(#pc)">
<rect x="0" y="0" width="633.2" height="140.9" fill="#f7f7f7"/>
<path d="M84.6 -6.9C84.8 -5.5 84.6 -1.6 85.6 1.6C86.7 4.7 89.0 8.6 90.9 12.2C92.9 15.7 95.2 19.2 97.3 22.7C99.4 26.3 101.5 30.3 103.7 33.3C105.8 36.3 107.2 39.2 110.0 40.8C112.8 42.4 118.8 41.6 120.6 42.9C122.4 44.1 121.7 46.7 120.6 48.2C119.5 49.7 114.7 50.6 113.8 52.0C112.9 53.4 113.7 55.5 115.3 56.7C117.0 57.8 122.2 57.0 123.8 58.8C125.4 60.5 124.5 64.1 124.9 67.3C125.2 70.4 124.5 74.5 125.9 77.8C127.3 81.2 130.0 84.2 133.3 87.4C136.7 90.6 141.8 93.7 146.0 96.9C150.3 100.1 154.5 103.6 158.8 106.5C163.0 109.3 167.6 111.2 171.5 113.9C175.4 116.5 178.5 119.5 182.1 122.4C185.6 125.2 189.1 127.8 192.7 130.8C196.2 133.8 200.8 137.2 203.3 140.4C205.7 143.5 152.0 148.3 207.5 149.9C263.0 151.5 481.2 151.5 536.0 149.9C590.7 148.3 536.0 142.8 536.0 140.4C536.0 137.9 535.6 137.4 536.0 135.1C536.3 132.8 537.2 129.4 538.1 126.6C539.0 123.8 539.9 120.9 541.3 118.1C542.7 115.3 545.1 112.5 546.6 109.6C548.1 106.8 549.9 103.3 550.4 101.2C550.9 99.0 550.7 99.0 549.8 96.9C548.8 94.8 545.9 91.4 544.5 88.4C543.0 85.4 542.7 82.1 541.3 78.9C539.9 75.7 538.3 72.4 536.0 69.4C533.7 66.4 530.2 63.7 527.5 60.9C524.9 58.1 522.0 55.6 520.1 52.4C518.1 49.2 517.1 45.4 515.8 41.8C514.6 38.3 513.4 34.8 512.7 31.2C512.0 27.7 512.5 23.8 511.6 20.6C510.7 17.5 509.7 14.3 507.4 12.2C505.1 10.0 500.8 9.7 497.8 7.9C494.8 6.1 491.1 4.0 489.4 1.6C487.6 -0.9 487.6 -5.5 487.2 -6.9Z" fill="#f6e8c3"/>
<path d="M390.8 149.9C390.8 148.3 391.0 143.2 390.8 140.4C390.6 137.5 391.0 135.2 389.8 132.9C388.5 130.7 385.3 128.7 383.4 126.6C381.5 124.5 379.0 122.4 378.1 120.2C377.2 118.1 377.7 116.3 378.1 113.9C378.5 111.4 379.0 108.2 380.2 105.4C381.5 102.6 383.7 99.7 385.5 96.9C387.3 94.1 389.4 91.3 390.8 88.4C392.2 85.6 392.6 82.6 394.0 80.0C395.4 77.3 397.2 74.8 399.3 72.6C401.4 70.3 404.2 67.7 406.7 66.2C409.2 64.7 411.7 63.4 414.1 63.4C416.6 63.4 418.9 65.0 421.5 66.2C424.2 67.4 427.2 69.0 430.0 70.4C432.8 71.8 436.0 73.1 438.5 74.7C441.0 76.3 442.9 77.7 444.9 80.0C446.8 82.3 448.4 85.6 450.2 88.4C451.9 91.3 453.8 94.3 455.4 96.9C457.1 99.6 459.6 102.0 460.1 104.3C460.6 106.6 459.4 108.4 458.6 110.7C457.9 113.0 455.6 115.5 455.4 118.1C455.3 120.8 456.5 123.8 457.6 126.6C458.6 129.4 460.7 132.6 461.8 135.1C462.9 137.5 463.5 139.0 463.9 141.4C464.3 143.9 464.3 148.5 464.3 149.9Z" fill="#f7f7f7"/>
<path d="M249.9 -6.9C249.9 -5.5 250.1 -0.9 249.9 1.6C249.7 4.0 250.6 5.1 248.8 7.9C247.1 10.7 241.2 15.3 239.3 18.5C237.3 21.7 238.6 24.2 237.2 27.0C235.8 29.8 232.9 32.3 230.8 35.5C228.7 38.6 226.9 42.5 224.5 46.1C222.0 49.6 218.8 53.3 216.0 56.7C213.2 60.0 210.7 63.0 207.5 66.2C204.3 69.4 200.1 72.9 196.9 75.7C193.7 78.6 190.4 80.9 188.4 83.1C186.5 85.4 185.1 87.4 185.2 89.5C185.4 91.6 187.2 93.9 189.5 95.9C191.8 97.8 195.7 99.4 199.0 101.2C202.4 102.9 206.4 104.5 209.6 106.5C212.8 108.4 214.9 110.9 218.1 112.8C221.3 114.8 224.8 116.3 228.7 118.1C232.6 119.9 237.2 121.8 241.4 123.4C245.6 125.0 249.5 125.9 254.1 127.7C258.7 129.4 264.4 132.0 269.0 134.0C273.5 136.0 277.8 138.8 281.7 139.7C285.6 140.7 290.3 140.9 292.3 139.7C294.2 138.6 292.3 135.0 293.3 132.9C294.4 130.9 296.3 129.4 298.6 127.7C300.9 125.9 303.9 123.6 307.1 122.4C310.3 121.1 314.9 120.4 317.7 120.2C320.5 120.1 321.6 121.5 324.1 121.3C326.5 121.1 329.4 120.1 332.5 119.2C335.7 118.3 340.0 117.4 343.1 116.0C346.3 114.6 349.5 112.5 351.6 110.7C353.7 108.9 354.6 107.7 355.8 105.4C357.1 103.1 358.3 100.1 359.0 96.9C359.7 93.7 359.7 90.2 360.1 86.3C360.4 82.4 360.6 77.8 361.1 73.6C361.7 69.4 362.9 65.1 363.3 60.9C363.6 56.7 362.9 52.1 363.3 48.2C363.6 44.3 364.5 41.1 365.4 37.6C366.3 34.1 367.5 30.2 368.6 27.0C369.6 23.8 370.7 21.3 371.7 18.5C372.8 15.7 374.6 12.9 374.9 10.0C375.3 7.2 374.1 4.4 373.9 1.6C373.6 -1.3 373.3 -5.5 373.2 -6.9Z" fill="#dfc27d"/>
<path d="M263.7 76.8C264.0 75.2 268.1 74.7 271.1 73.6C274.1 72.6 277.8 72.0 281.7 70.4C285.6 68.8 290.9 64.6 294.4 64.1C297.9 63.5 300.0 65.8 302.9 67.3C305.7 68.7 308.9 70.6 311.3 72.6C313.8 74.5 316.2 76.4 317.7 78.9C319.2 81.4 320.4 84.7 320.2 87.4C320.1 90.0 318.5 93.4 316.6 94.8C314.8 96.2 312.2 96.2 309.2 95.9C306.2 95.5 301.8 93.4 298.6 92.7C295.4 92.0 293.3 92.5 290.2 91.6C287.0 90.7 283.1 88.8 279.6 87.4C276.0 86.0 271.6 84.9 269.0 83.1C266.3 81.4 263.3 78.4 263.7 76.8Z" fill="#bf812d"/>
<path d="M41.1 149.9C41.3 148.3 41.9 143.2 42.2 140.4C42.6 137.5 41.9 135.1 43.3 132.9C44.7 130.8 47.3 129.1 50.7 127.7C54.0 126.2 58.8 125.2 63.4 124.5C68.0 123.8 73.6 123.1 78.2 123.4C82.8 123.8 86.7 125.0 90.9 126.6C95.2 128.2 99.6 130.8 103.7 132.9C107.7 135.1 112.5 136.5 115.3 139.3C118.1 142.1 119.7 148.1 120.6 149.9Z" fill="#c7eae5"/>
<path d="M615.4 47.8C616.5 46.7 619.2 46.5 623.9 46.1C628.7 45.6 640.7 41.0 644.1 45.2C647.4 49.5 647.6 67.4 644.1 71.5C640.5 75.6 627.4 70.6 622.9 69.8C618.3 69.0 617.3 68.7 616.9 66.8C616.6 65.0 620.6 61.2 620.7 58.8C620.9 56.4 618.5 54.3 617.6 52.4C616.7 50.6 614.4 48.8 615.4 47.8Z" fill="#f6e8c3"/>
<use href="#coast"/>
<path d="M-1.2 1.6C-0.9 1.7 -0.4 1.7 0.9 2.6C2.1 3.5 4.9 5.1 6.2 6.9C7.5 8.6 8.5 11.1 8.7 13.2C8.9 15.3 8.2 17.5 7.2 19.6C6.3 21.7 4.2 24.3 3.0 25.9C1.8 27.5 0.9 28.4 0.2 29.1C-0.5 29.8 -1.0 30.0 -1.2 30.2" fill="none" stroke="#000" stroke-width="1.60" stroke-linejoin="round" stroke-linecap="round"/>
<path d="M-1.2 67.3C-1.0 67.4 -0.8 66.9 0.2 68.3C1.3 69.7 3.6 73.1 5.1 75.7C6.6 78.4 8.8 81.6 9.4 84.2C9.9 86.9 9.2 89.2 8.3 91.6C7.4 94.1 5.4 96.7 4.1 99.0C2.7 101.3 1.1 104.2 0.2 105.4C-0.6 106.6 -1.0 106.3 -1.2 106.5" fill="none" stroke="#000" stroke-width="1.60" stroke-linejoin="round" stroke-linecap="round"/>
<path d="M0.7 105.4C0.8 107.2 1.2 112.1 1.5 116.0C1.8 119.9 2.1 124.1 2.4 128.7C2.6 133.3 3.1 141.1 3.2 143.5" fill="none" stroke="#0000ff" stroke-width="2.20" stroke-linejoin="round" stroke-linecap="round"/>
<use href="#tc" x="298.6" y="35.5"/>
<text x="298.6" y="39.3" font-size="10.5" font-weight="bold" text-anchor="middle" style="fill:#fff">D</text>
</g>
<use href="#frame"/>

</g>
<text transform="translate(99.80 503.50) scale(1 1.045)" font-size="35.00" stroke="#000" stroke-width="0.30">17-Jun to 26-Jun</text>
<text transform="translate(75.30 523.40) scale(1 1.045)" font-size="34.70" text-anchor="end" stroke="#000" stroke-width="0.30">30N</text>
<text transform="translate(75.30 558.62) scale(1 1.045)" font-size="34.70" text-anchor="end" stroke="#000" stroke-width="0.30">20N</text>
<text transform="translate(75.30 593.85) scale(1 1.045)" font-size="34.70" text-anchor="end" stroke="#000" stroke-width="0.30">10N</text>
<text transform="translate(75.30 629.08) scale(1 1.045)" font-size="34.70" text-anchor="end" stroke="#000" stroke-width="0.30">0</text>
<text transform="translate(75.30 664.30) scale(1 1.045)" font-size="34.70" text-anchor="end" stroke="#000" stroke-width="0.30">10S</text>
<g transform="translate(102.30 743.55)">
<g clip-path="url(#pc)">
<rect x="0" y="0" width="633.2" height="140.9" fill="#f7f7f7"/>
<path d="M-6.5 124.8C-5.3 124.3 -1.2 123.2 0.9 121.6C3.0 120.0 4.2 117.4 6.2 115.2C8.1 113.1 10.8 111.4 12.5 108.9C14.3 106.4 15.5 103.2 16.8 100.4C18.0 97.6 20.1 94.8 20.0 91.9C19.8 89.1 17.1 86.3 15.7 83.5C14.3 80.6 12.5 78.2 11.5 75.0C10.4 71.8 10.0 68.3 9.4 64.4C8.8 60.5 7.2 55.6 7.9 51.7C8.6 47.8 11.1 44.6 13.6 41.1C16.1 37.5 19.8 33.7 23.1 30.5C26.5 27.3 30.5 24.6 33.7 22.0C36.9 19.4 39.4 16.9 42.2 14.6C45.0 12.3 47.1 9.9 50.7 8.2C54.2 6.6 58.5 5.4 63.4 4.6C68.3 3.8 74.7 3.5 80.3 3.4C86.0 3.2 92.0 3.4 97.3 4.0C102.6 4.6 107.5 6.8 112.1 7.2C116.7 7.5 121.0 6.7 124.9 6.1C128.7 5.5 131.2 4.0 135.4 3.4C139.7 2.8 145.0 2.7 150.3 2.5C155.6 2.3 160.9 2.1 167.2 2.1C173.6 2.0 181.4 2.1 188.4 2.1C195.5 2.1 202.9 2.0 209.6 2.1C216.3 2.1 225.0 1.7 228.7 2.5C232.4 3.4 231.5 5.0 231.9 7.2C232.2 9.4 231.3 12.5 230.8 15.6C230.3 18.8 229.4 23.2 228.7 26.2C228.0 29.2 227.1 31.4 226.6 33.7C226.0 36.0 225.3 37.9 225.5 40.0C225.7 42.1 227.6 43.4 227.6 46.4C227.6 49.4 226.8 54.7 225.5 58.0C224.3 61.4 222.5 63.9 220.2 66.5C217.9 69.2 213.9 71.8 211.7 73.9C209.6 76.0 207.5 77.3 207.5 79.2C207.5 81.2 209.6 83.6 211.7 85.6C213.9 87.5 217.2 89.1 220.2 90.9C223.2 92.6 226.9 94.1 229.8 96.2C232.6 98.3 234.5 101.1 237.2 103.6C239.8 106.1 243.2 108.7 245.6 111.0C248.1 113.3 249.5 116.5 252.0 117.4C254.5 118.2 257.3 116.8 260.5 116.3C263.7 115.8 267.5 114.5 271.1 114.2C274.6 113.8 278.3 113.7 281.7 114.2C285.0 114.6 290.0 115.5 291.2 116.9C292.4 118.4 290.3 121.2 289.1 122.7C287.9 124.1 285.7 125.1 283.8 125.8C281.9 126.5 279.2 126.2 277.4 126.9C275.7 127.6 273.5 128.8 273.2 130.1C272.8 131.3 275.7 132.7 275.3 134.3C275.0 135.9 272.1 137.1 271.1 139.6C270.0 142.1 269.3 147.6 269.0 149.2L-8.0 148.9Z" fill="#c7eae5"/>
<path d="M24.2 149.2C24.2 147.6 24.2 142.4 24.2 139.6C24.2 136.8 23.5 134.8 24.2 132.2C24.9 129.5 26.5 126.5 28.4 123.7C30.4 120.9 33.4 118.4 35.8 115.2C38.3 112.1 41.3 108.2 43.3 104.6C45.2 101.1 45.6 97.2 47.5 94.1C49.4 90.9 51.9 87.9 54.9 85.6C57.9 83.3 61.6 81.4 65.5 80.3C69.4 79.1 74.3 79.1 78.2 78.8C82.1 78.4 86.4 79.3 88.8 78.2C91.3 77.0 91.1 73.4 93.1 71.8C95.0 70.2 98.4 68.6 100.5 68.6C102.6 68.6 104.5 70.0 105.8 71.8C107.0 73.6 106.1 77.1 107.9 79.2C109.7 81.3 112.8 82.9 116.4 84.5C119.9 86.1 124.5 87.7 129.1 88.8C133.7 89.8 139.3 90.0 143.9 90.9C148.5 91.8 153.1 92.6 156.6 94.1C160.2 95.5 162.6 97.2 165.1 99.4C167.6 101.5 169.0 104.3 171.5 106.8C173.9 109.2 176.8 111.9 180.0 114.2C183.1 116.5 187.0 118.8 190.5 120.5C194.1 122.3 198.0 123.4 201.1 124.8C204.3 126.2 207.3 127.3 209.6 129.0C211.9 130.8 214.2 133.6 214.9 135.4C215.6 137.1 214.2 137.3 213.9 139.6C213.5 141.9 213.0 147.6 212.8 149.2Z" fill="#80cdc1"/>
<path d="M61.3 149.2C61.3 147.6 61.3 142.1 61.3 139.6C61.2 137.1 60.1 136.1 60.9 134.3C61.6 132.6 63.0 130.4 65.5 129.0C68.1 127.6 72.6 126.7 76.1 125.8C79.6 125.0 83.7 124.1 86.7 124.1C89.7 124.1 91.7 124.7 94.1 125.8C96.6 127.0 99.2 129.5 101.5 131.1C103.8 132.7 106.0 134.0 107.9 135.4C109.8 136.8 111.4 137.3 113.2 139.6C115.0 141.9 117.6 147.6 118.5 149.2Z" fill="#35978f"/>
<path d="M568.8 -7.7C568.6 -6.1 568.3 -1.3 567.8 1.9C567.2 5.0 566.5 8.0 565.6 11.4C564.8 14.8 563.4 18.5 562.5 22.0C561.6 25.5 560.6 29.1 560.3 32.6C560.1 36.1 560.8 40.0 561.0 43.2C561.2 46.4 561.9 48.8 561.4 51.7C560.9 54.5 559.5 57.3 558.2 60.1C557.0 63.0 555.2 65.4 554.0 68.6C552.8 71.8 551.4 75.7 550.8 79.2C550.2 82.8 550.7 86.3 550.4 89.8C550.0 93.3 549.3 96.9 548.7 100.4C548.1 103.9 547.3 107.7 546.6 111.0C545.9 114.4 545.9 117.7 544.5 120.5C543.0 123.4 540.6 126.0 538.1 128.0C535.6 129.9 532.8 131.5 529.6 132.2C526.4 132.9 522.4 132.4 519.0 132.2C515.7 132.0 512.1 130.8 509.5 131.1C506.8 131.5 505.1 132.9 503.1 134.3C501.2 135.7 499.4 137.1 497.8 139.6C496.2 142.1 494.3 147.6 493.6 149.2L641.2 148.9L641.2 -8.0Z" fill="#f6e8c3"/>
<path d="M644.1 39.0C641.9 39.1 634.9 39.7 631.3 40.0C627.8 40.4 625.7 40.4 622.9 41.1C620.0 41.8 617.2 43.0 614.4 44.3C611.6 45.5 608.7 46.7 605.9 48.5C603.1 50.3 600.1 52.6 597.4 54.8C594.8 57.1 591.8 59.6 590.0 62.3C588.3 64.9 587.2 67.9 586.8 70.7C586.5 73.6 587.5 76.4 587.9 79.2C588.3 82.0 588.1 85.2 589.0 87.7C589.8 90.2 591.4 91.9 593.2 94.1C595.0 96.2 598.0 97.9 599.6 100.4C601.1 102.9 601.7 106.1 602.7 108.9C603.8 111.7 604.5 114.5 605.9 117.4C607.3 120.2 609.1 123.2 611.2 125.8C613.3 128.5 616.0 131.1 618.6 133.3C621.3 135.4 624.3 137.0 627.1 138.6C629.9 140.1 634.2 142.1 635.6 142.8L641.2 148.9Z" fill="#dfc27d"/>
<path d="M372.8 104.6C373.1 102.7 373.5 100.4 374.9 98.3C376.3 96.2 378.8 94.1 381.3 91.9C383.7 89.8 387.1 87.3 389.8 85.6C392.4 83.8 394.7 82.2 397.2 81.3C399.6 80.5 402.1 80.1 404.6 80.3C407.1 80.5 409.7 81.3 412.0 82.4C414.3 83.5 416.4 85.0 418.4 86.6C420.3 88.2 422.2 90.0 423.7 91.9C425.1 93.9 426.7 96.2 426.8 98.3C427.0 100.4 426.0 102.5 424.7 104.6C423.5 106.8 421.4 109.1 419.4 111.0C417.5 112.9 415.2 114.7 413.1 116.3C410.9 117.9 409.2 119.8 406.7 120.5C404.2 121.2 401.1 120.7 398.2 120.5C395.4 120.4 392.6 119.7 389.8 119.5C386.9 119.3 383.6 120.2 381.3 119.5C379.0 118.8 377.3 116.8 376.0 115.2C374.6 113.7 373.8 111.7 373.2 109.9C372.7 108.2 372.5 106.6 372.8 104.6Z" fill="#c7eae5"/>
<use href="#coast"/>
<path d="M232.3 -5.5C232.2 -4.2 232.0 -0.3 231.6 2.2C231.2 4.8 230.4 7.4 230.1 10.0C229.8 12.5 229.6 14.9 229.8 17.8C230.1 20.6 230.7 23.8 231.6 26.9C232.5 29.9 234.0 32.7 235.3 36.0C236.6 39.2 238.1 42.8 239.2 46.2C240.3 49.7 241.1 53.2 241.7 56.7C242.3 60.1 242.7 63.5 243.0 67.0C243.3 70.4 243.4 73.9 243.3 77.4C243.2 80.8 242.7 84.5 242.4 87.8C242.1 91.0 241.6 93.7 241.7 96.8C241.8 99.8 242.2 102.6 242.8 105.9C243.5 109.1 244.5 112.6 245.6 116.2C246.7 119.9 248.2 124.1 249.5 127.9C250.8 131.6 252.4 135.8 253.4 138.9C254.4 142.0 255.3 145.2 255.7 146.5" fill="none" stroke="#000" stroke-width="1.60" stroke-linejoin="round" stroke-linecap="round"/>
<use href="#tc" x="223.1" y="54.8"/>
<use href="#tc" x="250.1" y="61.1"/>
<use href="#tc" x="253.3" y="68.1"/>
<text x="223.1" y="58.5" font-size="10.5" font-weight="bold" text-anchor="middle" style="fill:#fff">A</text>
<text x="249.7" y="64.3" font-size="10.5" font-weight="bold" text-anchor="middle" style="fill:#fff">4</text>
<text x="253.5" y="71.9" font-size="10.5" font-weight="bold" text-anchor="middle" style="fill:#fff">B</text>
</g>
<use href="#frame"/>

</g>
<text transform="translate(99.80 736.25) scale(1 1.045)" font-size="35.00" stroke="#000" stroke-width="0.30">27-Jun to 6-Jul</text>
<text transform="translate(75.30 756.15) scale(1 1.045)" font-size="34.70" text-anchor="end" stroke="#000" stroke-width="0.30">30N</text>
<text transform="translate(75.30 791.38) scale(1 1.045)" font-size="34.70" text-anchor="end" stroke="#000" stroke-width="0.30">20N</text>
<text transform="translate(75.30 826.60) scale(1 1.045)" font-size="34.70" text-anchor="end" stroke="#000" stroke-width="0.30">10N</text>
<text transform="translate(75.30 861.82) scale(1 1.045)" font-size="34.70" text-anchor="end" stroke="#000" stroke-width="0.30">0</text>
<text transform="translate(75.30 897.05) scale(1 1.045)" font-size="34.70" text-anchor="end" stroke="#000" stroke-width="0.30">10S</text>
<g transform="translate(844.80 45.30)">
<g clip-path="url(#pc)">
<rect x="0" y="0" width="633.2" height="140.9" fill="#f7f7f7"/>
<path d="M84.5 -7.4C84.6 -5.9 84.5 -1.1 85.1 1.7C85.8 4.5 87.1 6.8 88.3 9.5C89.6 12.3 90.8 14.8 92.6 18.0C94.3 21.2 96.4 24.9 98.9 28.6C101.4 32.3 104.6 36.7 107.4 40.3C110.2 43.8 113.0 46.8 115.9 49.8C118.7 52.8 121.5 55.3 124.4 58.3C127.2 61.3 130.5 64.6 132.8 67.8C135.1 71.0 137.2 74.5 138.1 77.3C139.0 80.2 139.0 82.5 138.1 84.8C137.2 87.1 135.5 89.3 132.8 91.1C130.2 93.0 126.1 94.7 122.2 96.0C118.3 97.3 114.1 98.0 109.5 99.0C104.9 99.9 99.6 100.7 94.7 101.7C89.7 102.7 84.8 103.7 79.8 104.9C74.9 106.1 70.0 107.5 65.0 109.1C60.1 110.7 54.8 112.5 50.2 114.4C45.6 116.4 41.4 118.5 37.5 120.8C33.6 123.1 29.7 125.9 26.9 128.2C24.0 130.5 22.1 132.6 20.5 134.6C18.9 136.5 18.2 137.4 17.3 139.9C16.4 142.3 15.6 147.8 15.2 149.4L-8.0 148.9L-8.0 -8.0Z" fill="#f6e8c3"/>
<path d="M-7.0 19.1C-5.8 19.8 -2.4 21.5 0.4 23.3C3.2 25.1 6.2 27.4 9.9 29.7C13.6 32.0 18.0 34.6 22.6 37.1C27.2 39.6 32.5 42.4 37.5 44.5C42.4 46.6 47.4 47.9 52.3 49.8C57.2 51.7 62.2 53.9 67.1 56.2C72.1 58.5 77.4 61.1 82.0 63.6C86.6 66.0 91.0 68.7 94.7 71.0C98.4 73.3 102.2 75.6 104.2 77.3C106.3 79.1 107.2 80.0 107.0 81.6C106.8 83.2 105.6 85.5 103.2 86.9C100.8 88.3 96.4 89.0 92.6 90.1C88.7 91.1 84.4 92.0 79.8 93.2C75.3 94.5 70.0 96.1 65.0 97.5C60.1 98.9 55.1 100.1 50.2 101.7C45.2 103.3 39.9 105.3 35.3 107.0C30.8 108.8 26.9 110.4 22.6 112.3C18.4 114.3 13.6 117.1 9.9 118.7C6.2 120.3 3.2 120.9 0.4 121.9C-2.4 122.8 -5.8 124.0 -7.0 124.4Z" fill="#dfc27d"/>
<path d="M-7.0 70.6C-5.8 70.8 -2.1 71.5 0.4 72.1C2.9 72.7 4.8 73.1 7.8 74.2C10.8 75.2 15.2 77.0 18.4 78.4C21.6 79.8 25.0 81.5 26.9 82.6C28.7 83.8 29.6 84.3 29.4 85.4C29.2 86.5 27.8 87.9 25.8 89.0C23.8 90.1 20.3 91.1 17.3 92.2C14.3 93.2 10.6 94.4 7.8 95.4C5.0 96.4 2.9 97.4 0.4 98.1C-2.1 98.8 -5.8 99.4 -7.0 99.6Z" fill="#bf812d"/>
<path d="M73.5 149.4C74.0 147.8 74.9 142.3 76.7 139.9C78.4 137.4 80.7 136.0 84.1 134.6C87.4 133.2 92.2 132.1 96.8 131.4C101.4 130.7 106.7 130.3 111.6 130.3C116.6 130.3 121.5 130.9 126.5 131.4C131.4 131.9 137.4 132.6 141.3 133.5C145.2 134.4 147.5 135.6 149.8 136.7C152.1 137.7 153.5 137.7 155.1 139.9C156.7 142.0 158.6 147.8 159.3 149.4Z" fill="#c7eae5"/>
<path d="M166.7 -7.4C166.4 -5.9 165.9 -0.8 164.6 1.7C163.4 4.2 160.4 5.0 159.3 7.4C158.3 9.8 157.9 12.7 158.3 15.9C158.6 19.1 160.4 23.0 161.4 26.5C162.5 30.0 163.9 33.2 164.6 37.1C165.3 41.0 165.3 45.6 165.7 49.8C166.0 54.0 166.4 58.3 166.7 62.5C167.1 66.8 167.8 71.0 167.8 75.2C167.8 79.5 167.0 83.7 166.7 87.9C166.5 92.2 166.0 97.0 166.3 100.7C166.7 104.4 167.0 107.5 168.9 110.2C170.7 112.8 173.8 114.6 177.3 116.6C180.9 118.5 185.5 120.3 190.0 121.9C194.6 123.4 200.3 124.7 204.9 126.1C209.5 127.5 213.7 128.9 217.6 130.3C221.5 131.7 225.4 133.0 228.2 134.6C231.0 136.2 232.8 137.4 234.6 139.9C236.3 142.3 205.8 147.8 238.8 149.4C271.8 151.0 400.4 151.0 432.7 149.4C465.0 147.8 432.5 142.7 432.7 139.9C432.9 137.0 433.0 134.7 433.8 132.4C434.5 130.2 436.3 128.4 436.9 126.1C437.6 123.8 438.3 121.1 437.6 118.7C436.9 116.2 434.7 113.9 432.7 111.3C430.6 108.6 427.9 105.6 425.3 102.8C422.6 100.0 419.6 97.1 416.8 94.3C414.0 91.5 410.6 88.7 408.3 85.8C406.0 83.0 404.4 80.5 403.0 77.3C401.6 74.2 400.6 69.9 399.8 66.8C399.1 63.6 399.3 61.1 398.8 58.3C398.3 55.5 397.9 53.0 396.7 49.8C395.4 46.6 393.3 42.7 391.4 39.2C389.4 35.7 387.3 32.1 385.0 28.6C382.7 25.1 380.1 21.2 377.6 18.0C375.1 14.8 372.3 12.3 370.2 9.5C368.1 6.8 366.1 4.5 364.9 1.7C363.6 -1.1 363.1 -5.9 362.8 -7.4Z" fill="#c7eae5"/>
<path d="M272.7 149.4C272.0 147.8 270.2 142.3 268.5 139.9C266.7 137.4 264.9 136.5 262.1 134.6C259.3 132.6 255.4 130.3 251.5 128.2C247.6 126.1 243.0 123.6 238.8 121.9C234.6 120.1 230.3 119.0 226.1 117.6C221.8 116.2 217.6 115.1 213.4 113.4C209.1 111.6 204.5 109.3 200.6 107.0C196.8 104.7 192.9 102.1 190.0 99.6C187.2 97.1 184.9 94.8 183.7 92.2C182.5 89.5 182.5 86.9 182.6 83.7C182.8 80.5 184.2 76.6 184.7 73.1C185.3 69.6 185.3 66.0 185.8 62.5C186.3 59.0 186.9 55.5 187.9 51.9C189.0 48.4 190.9 44.9 192.2 41.3C193.4 37.8 193.9 34.1 195.3 30.7C196.8 27.4 198.3 23.7 200.6 21.2C202.9 18.7 205.6 17.1 209.1 15.9C212.7 14.7 218.0 13.8 221.8 13.8C225.7 13.8 228.9 14.7 232.4 15.9C236.0 17.1 239.5 19.6 243.0 21.2C246.6 22.8 250.4 24.7 253.6 25.4C256.8 26.1 259.6 26.0 262.1 25.4C264.6 24.9 267.1 24.0 268.5 22.2C269.8 20.5 269.6 14.8 270.2 14.8C270.7 14.8 270.2 20.3 271.6 22.2C273.1 24.2 276.1 24.8 279.1 26.5C282.1 28.2 286.1 30.5 289.7 32.4C293.2 34.4 296.7 36.1 300.2 38.1C303.8 40.2 308.0 42.5 310.8 44.5C313.7 46.5 315.1 49.1 317.2 50.2C319.3 51.4 321.1 50.9 323.6 51.5C326.0 52.1 329.2 52.9 332.0 54.0C334.9 55.2 338.5 56.5 340.5 58.3C342.6 60.0 343.6 62.2 344.3 64.6C345.0 67.1 344.0 70.6 344.7 73.1C345.5 75.6 347.8 77.3 349.0 79.5C350.2 81.6 351.8 83.4 352.2 85.8C352.5 88.3 351.5 91.1 351.1 94.3C350.8 97.5 349.9 101.7 350.0 104.9C350.2 108.1 351.1 110.5 352.2 113.4C353.2 116.2 355.2 119.0 356.4 121.9C357.6 124.7 358.9 127.3 359.6 130.3C360.3 133.3 360.4 136.7 360.6 139.9C360.9 143.0 361.0 147.8 361.1 149.4Z" fill="#80cdc1"/>
<path d="M201.7 79.5C201.5 76.6 202.6 72.4 203.8 68.9C205.1 65.3 206.8 61.1 209.1 58.3C211.4 55.5 214.4 53.5 217.6 51.9C220.8 50.3 224.3 49.2 228.2 48.7C232.1 48.3 236.7 48.8 240.9 49.4C245.1 49.9 249.4 51.0 253.6 51.9C257.9 52.9 262.1 54.0 266.3 55.1C270.6 56.2 274.8 57.0 279.1 58.3C283.3 59.5 287.9 60.9 291.8 62.5C295.7 64.1 299.0 66.0 302.4 67.8C305.7 69.6 309.6 71.2 311.9 73.1C314.2 75.1 315.6 77.0 316.1 79.5C316.7 81.9 316.1 85.1 315.1 87.9C314.0 90.8 311.7 93.6 309.8 96.4C307.8 99.2 305.4 102.1 303.4 104.9C301.5 107.7 300.2 111.1 298.1 113.4C296.0 115.7 293.5 117.6 290.7 118.7C287.9 119.7 284.5 120.1 281.2 119.7C277.8 119.4 274.1 118.0 270.6 116.6C267.0 115.1 263.5 113.2 260.0 111.3C256.4 109.3 252.9 106.7 249.4 104.9C245.9 103.1 242.7 102.1 238.8 100.7C234.9 99.2 230.3 98.0 226.1 96.4C221.8 94.8 216.9 92.9 213.4 91.1C209.8 89.4 206.8 87.8 204.9 85.8C202.9 83.9 201.9 82.3 201.7 79.5Z" fill="#35978f"/>
<use href="#coast"/>
<path d="M94.7 -4.2C94.8 -3.3 94.8 -1.0 95.1 1.7C95.4 4.3 95.7 8.2 96.4 11.7C97.0 15.1 97.9 18.7 98.9 22.2C99.9 25.8 101.6 29.3 102.5 32.8C103.4 36.4 103.4 39.9 104.2 43.4C105.0 47.0 106.2 50.5 107.4 54.0C108.6 57.6 110.0 61.1 111.6 64.6C113.2 68.2 115.2 72.1 116.9 75.2C118.7 78.4 120.6 81.1 122.2 83.7C123.8 86.4 125.4 88.7 126.5 91.1C127.5 93.6 128.2 95.9 128.6 98.5C129.0 101.2 128.9 103.8 129.0 107.0C129.1 110.2 129.2 114.4 129.0 117.6C128.9 120.8 128.8 123.3 128.2 126.1C127.6 128.9 126.1 132.2 125.4 134.6C124.7 137.0 124.3 138.9 123.9 140.5C123.5 142.1 123.2 143.5 123.1 144.1" fill="none" stroke="#000" stroke-width="1.60" stroke-linejoin="round" stroke-linecap="round"/>
<path d="M348.6 -4.2C348.6 -3.3 348.6 -1.0 349.0 1.7C349.3 4.3 350.0 8.2 350.7 11.7C351.3 15.1 352.2 18.7 352.8 22.2C353.4 25.8 353.8 29.3 354.3 32.8C354.8 36.4 355.2 39.9 355.8 43.4C356.3 47.0 357.0 50.5 357.5 54.0C357.9 57.6 358.2 61.1 358.5 64.6C358.8 68.2 359.3 72.1 359.2 75.2C359.0 78.4 358.3 80.9 357.5 83.7C356.7 86.5 355.2 89.4 354.3 92.2C353.4 95.0 352.5 98.2 352.2 100.7C351.8 103.1 351.5 104.9 352.2 107.0C352.9 109.1 354.8 110.9 356.4 113.4C358.0 115.8 359.8 118.9 361.7 121.9C363.6 124.9 366.1 128.4 368.1 131.4C370.0 134.4 372.0 137.7 373.4 139.9C374.7 142.0 375.7 143.4 376.1 144.1" fill="none" stroke="#000" stroke-width="1.60" stroke-linejoin="round" stroke-linecap="round"/>
</g>
<use href="#frame"/>

</g>
<text transform="translate(842.30 38.00) scale(1 1.045)" font-size="35.00" stroke="#000" stroke-width="0.30">7-Jul to 16-Jul</text>
<g transform="translate(844.80 278.05)">
<g clip-path="url(#pc)">
<rect x="0" y="0" width="633.2" height="140.9" fill="#f7f7f7"/>
<path d="M125.4 -7.2C125.6 -5.7 125.6 -1.2 126.5 1.9C127.4 5.1 129.1 8.5 130.7 11.9C132.3 15.3 134.4 18.6 136.0 22.5C137.6 26.4 139.1 31.0 140.2 35.2C141.4 39.5 142.5 43.3 143.0 47.9C143.5 52.5 143.5 57.8 143.4 62.8C143.3 67.7 143.0 73.0 142.4 77.6C141.7 82.2 140.8 86.1 139.6 90.3C138.4 94.6 136.8 99.1 134.9 103.0C133.1 106.9 131.1 110.6 128.6 113.6C126.1 116.6 123.3 118.9 120.1 121.0C116.9 123.2 113.0 124.8 109.5 126.3C106.0 127.9 102.1 129.2 98.9 130.6C95.7 132.0 92.9 133.2 90.4 134.8C88.0 136.4 85.9 137.6 84.1 140.1C82.3 142.6 80.6 148.1 79.8 149.7L-8.0 148.9L-8.0 -8.0Z" fill="#f6e8c3"/>
<path d="M80.9 -7.2C81.3 -5.7 81.4 -1.2 83.0 1.9C84.6 5.1 87.4 8.1 90.4 11.9C93.4 15.7 97.5 20.4 101.0 24.6C104.6 28.9 108.6 33.1 111.6 37.3C114.6 41.6 117.0 45.8 119.1 50.0C121.1 54.3 123.0 58.5 123.9 62.8C124.8 67.0 124.8 71.2 124.4 75.5C123.9 79.7 122.8 84.3 121.2 88.2C119.6 92.1 117.5 95.6 114.8 98.8C112.2 102.0 109.0 104.6 105.3 107.3C101.6 109.9 97.2 112.4 92.6 114.7C88.0 117.0 82.7 118.9 77.7 121.0C72.8 123.2 67.5 125.3 62.9 127.4C58.3 129.5 53.7 131.6 50.2 133.8C46.6 135.9 44.2 137.5 41.7 140.1C39.2 142.8 36.4 148.1 35.3 149.7L-8.0 148.9L-8.0 -8.0Z" fill="#dfc27d"/>
<path d="M32.2 -7.2C32.7 -5.7 33.0 -0.9 35.3 1.9C37.6 4.8 42.1 6.4 45.9 9.8C49.8 13.2 54.4 18.4 58.7 22.5C62.9 26.6 67.1 30.4 71.4 34.2C75.6 37.9 80.2 41.2 84.1 44.8C88.0 48.3 91.5 51.8 94.7 55.3C97.9 58.9 101.1 62.4 103.2 65.9C105.2 69.5 106.8 73.0 107.0 76.5C107.2 80.1 105.9 84.0 104.2 87.1C102.5 90.3 100.2 93.0 96.8 95.6C93.4 98.3 88.7 100.7 84.1 103.0C79.5 105.3 74.6 107.4 69.3 109.4C64.0 111.3 58.0 112.9 52.3 114.7C46.6 116.5 41.0 118.2 35.3 120.0C29.7 121.7 23.0 123.9 18.4 125.3C13.8 126.7 10.8 127.4 7.8 128.5C4.8 129.5 2.9 130.8 0.4 131.6C-2.1 132.5 -5.8 133.4 -7.0 133.8L-8.0 -8.0Z" fill="#bf812d"/>
<path d="M-7.0 28.4C-5.8 28.5 -2.4 28.6 0.4 28.9C3.2 29.1 6.6 28.9 9.9 29.9C13.3 31.0 17.0 33.1 20.5 35.2C24.0 37.3 27.6 40.0 31.1 42.6C34.6 45.3 37.8 48.5 41.7 51.1C45.6 53.8 50.2 56.1 54.4 58.5C58.7 61.0 63.4 63.5 67.1 65.9C70.8 68.4 74.5 71.1 76.7 73.4C78.9 75.7 80.3 77.6 80.3 79.7C80.3 81.8 78.9 84.3 76.7 86.1C74.5 87.8 70.8 88.9 67.1 90.3C63.4 91.7 59.0 93.1 54.4 94.6C49.8 96.0 44.5 97.6 39.6 98.8C34.6 100.0 29.7 100.9 24.7 102.0C19.8 103.0 14.0 104.1 9.9 105.1C5.9 106.2 3.2 107.6 0.4 108.3C-2.4 109.0 -5.8 109.2 -7.0 109.4Z" fill="#8c510a"/>
<path d="M230.3 -7.2C230.1 -5.7 230.1 -1.9 229.3 1.9C228.4 5.8 226.8 11.3 225.0 16.1C223.2 21.0 221.0 26.0 218.7 31.0C216.4 35.9 213.7 41.4 211.2 45.8C208.8 50.2 206.1 54.1 203.8 57.5C201.5 60.8 198.3 63.3 197.5 65.9C196.6 68.6 197.1 71.1 198.5 73.4C199.9 75.7 203.6 77.2 205.9 79.7C208.2 82.2 210.5 85.0 212.3 88.2C214.1 91.4 214.9 95.3 216.5 98.8C218.1 102.3 219.5 106.6 221.8 109.4C224.1 112.2 227.7 113.6 230.3 115.7C233.0 117.9 235.9 119.6 237.7 122.1C239.6 124.6 240.5 127.6 241.3 130.6C242.1 133.6 242.3 136.9 242.6 140.1C242.9 143.3 243.0 148.1 243.0 149.7L641.2 148.9L641.2 -8.0Z" fill="#c7eae5"/>
<path d="M280.1 149.7C279.9 148.1 279.9 142.9 279.1 140.1C278.2 137.3 276.4 135.3 274.8 132.7C273.2 130.0 271.6 127.2 269.5 124.2C267.4 121.2 264.7 117.5 262.1 114.7C259.5 111.9 255.9 109.9 253.6 107.3C251.3 104.6 249.6 102.0 248.3 98.8C247.1 95.6 246.7 91.7 246.2 88.2C245.7 84.7 245.5 81.1 245.1 77.6C244.8 74.1 243.6 70.2 244.1 67.0C244.6 63.8 246.0 61.4 248.3 58.5C250.6 55.7 254.5 52.3 257.9 50.0C261.2 47.8 264.6 46.3 268.5 44.8C272.3 43.2 276.9 42.3 281.2 40.5C285.4 38.7 289.7 36.1 293.9 34.2C298.1 32.2 302.7 30.3 306.6 28.9C310.5 27.4 313.7 26.7 317.2 25.7C320.7 24.6 323.9 23.4 327.8 22.5C331.7 21.6 336.3 20.8 340.5 20.4C344.7 20.0 349.0 19.4 353.2 20.0C357.5 20.5 362.1 21.7 365.9 23.6C369.8 25.4 373.4 28.2 376.5 31.0C379.7 33.8 382.4 37.3 385.0 40.5C387.7 43.7 390.0 46.7 392.4 50.0C394.9 53.4 397.2 56.9 399.8 60.6C402.5 64.4 405.5 68.4 408.3 72.3C411.2 76.2 414.0 80.2 416.8 84.0C419.6 87.7 422.6 91.0 425.3 94.6C427.9 98.1 430.6 101.8 432.7 105.1C434.8 108.5 437.0 112.0 438.0 114.7C438.9 117.3 439.1 118.7 438.4 121.0C437.7 123.3 435.6 126.2 433.8 128.5C431.9 130.8 429.3 132.9 427.4 134.8C425.5 136.8 423.5 137.6 422.1 140.1C420.7 142.6 419.5 148.1 418.9 149.7Z" fill="#80cdc1"/>
<path d="M489.9 149.7C490.1 148.1 490.1 143.3 491.0 140.1C491.9 136.9 493.6 133.6 495.2 130.6C496.8 127.6 500.9 124.9 500.5 122.1C500.2 119.3 495.4 116.8 493.1 113.6C490.8 110.4 488.5 106.9 486.7 103.0C485.0 99.1 482.7 94.2 482.5 90.3C482.3 86.4 483.9 83.3 485.7 79.7C487.4 76.2 491.2 73.0 493.1 69.1C495.0 65.2 495.9 60.6 497.3 56.4C498.7 52.2 500.0 47.6 501.6 43.7C503.2 39.8 504.7 36.3 506.9 33.1C509.0 29.9 511.3 27.1 514.3 24.6C517.3 22.1 521.0 20.0 524.9 18.3C528.8 16.6 533.0 15.5 537.6 14.4C542.2 13.4 547.8 12.7 552.4 11.9C557.0 11.1 561.3 10.4 565.1 9.8C569.0 9.1 572.6 8.9 575.7 8.1C578.9 7.3 581.7 6.1 584.2 5.1C586.7 4.1 589.3 4.0 590.6 1.9C591.8 -0.1 591.5 -5.7 591.6 -7.2L608.0 -8.0Z" fill="#80cdc1"/>
<path d="M608.0 -7.2C607.8 -5.7 607.7 -1.2 607.1 1.9C606.5 5.1 605.5 8.5 604.4 11.9C603.2 15.3 601.2 19.0 600.1 22.5C599.1 26.0 597.6 30.3 598.0 33.1C598.3 35.9 599.6 37.5 602.2 39.5C604.9 41.4 610.2 43.1 613.9 44.8C617.6 46.4 621.3 48.3 624.5 49.6C627.7 50.9 629.8 51.6 633.0 52.6C636.1 53.5 641.8 54.9 643.6 55.3L641.2 148.9L489.9 148.9L529.1 60.0L591.6 -8.0Z" fill="#80cdc1"/>
<path d="M323.6 65.9C322.5 66.6 319.3 68.8 317.2 70.2C315.1 71.6 312.8 72.5 310.8 74.4C308.9 76.4 306.8 79.5 305.5 81.8C304.3 84.1 303.1 85.9 303.4 88.2C303.8 90.5 306.1 93.3 307.7 95.6C309.3 97.9 311.4 100.4 313.0 102.0C314.6 103.6 314.4 103.7 317.2 105.1C320.0 106.6 326.0 108.9 329.9 110.4C333.8 112.0 337.0 113.4 340.5 114.7C344.0 115.9 347.9 117.5 351.1 117.9C354.3 118.2 356.8 117.7 359.6 116.8C362.4 115.9 365.7 114.5 368.1 112.6C370.5 110.6 372.9 108.0 374.0 105.1C375.1 102.3 375.3 98.6 374.8 95.6C374.4 92.6 373.1 89.8 371.2 87.1C369.4 84.5 366.8 81.8 363.8 79.7C360.8 77.6 357.1 76.0 353.2 74.4C349.3 72.8 344.7 71.2 340.5 70.2C336.3 69.1 331.7 68.2 327.8 68.1C323.9 67.9 319.0 68.9 317.2 69.1Z" fill="#35978f"/>
<path d="M511.1 85.0C511.1 83.1 513.0 81.3 515.3 79.7C517.6 78.1 521.2 76.8 524.9 75.5C528.6 74.1 533.4 72.4 537.6 71.7C541.8 71.0 546.6 70.9 550.3 71.2C554.0 71.6 557.7 72.5 559.8 73.8C562.0 75.0 563.0 76.8 563.0 78.7C563.0 80.5 562.0 83.1 559.8 85.0C557.7 87.0 554.0 88.9 550.3 90.3C546.6 91.7 541.8 92.9 537.6 93.5C533.4 94.1 528.6 94.5 524.9 94.1C521.2 93.8 517.6 92.9 515.3 91.4C513.0 89.9 511.1 87.0 511.1 85.0Z" fill="#35978f"/>
<use href="#coast"/>
<path d="M321.4 2.4C320.7 2.7 319.3 3.1 317.2 4.5C315.1 5.9 311.5 8.5 308.7 10.8C305.9 13.1 302.9 15.6 300.2 18.3C297.6 20.9 295.1 23.7 292.8 26.7C290.5 29.7 288.6 32.9 286.5 36.3C284.4 39.6 281.9 43.5 280.1 46.9C278.3 50.2 276.9 53.2 275.9 56.4C274.8 59.6 274.0 62.8 273.8 65.9C273.5 69.1 274.7 72.3 274.4 75.5C274.0 78.7 272.6 81.8 271.6 85.0C270.6 88.2 269.3 91.2 268.5 94.6C267.6 97.9 266.8 101.3 266.3 105.1C265.9 109.0 265.9 113.6 265.9 117.9C265.9 122.1 266.2 126.9 266.3 130.6C266.5 134.3 266.7 137.8 266.8 140.1C266.9 142.4 266.9 143.6 267.0 144.4" fill="none" stroke="#000" stroke-width="1.60" stroke-linejoin="round" stroke-linecap="round"/>
<path d="M398.8 -0.8C399.1 -0.4 399.3 0.5 400.9 1.9C402.5 3.4 405.3 5.7 408.3 7.7C411.3 9.7 415.0 12.2 418.9 14.0C422.8 15.9 427.4 17.4 431.6 18.7C435.9 19.9 440.1 20.9 444.4 21.4C448.6 22.0 452.5 22.0 457.1 21.9C461.7 21.7 467.0 21.1 471.9 20.4C476.8 19.7 481.4 18.7 486.7 17.8C492.0 17.0 498.0 16.0 503.7 15.1C509.3 14.2 515.0 13.2 520.6 12.5C526.3 11.8 532.3 11.3 537.6 10.8C542.9 10.4 547.8 9.8 552.4 9.8C557.0 9.8 561.4 10.1 565.1 10.8C568.9 11.6 571.9 12.8 574.7 14.0C577.5 15.3 579.5 16.5 582.1 18.3C584.7 20.0 587.4 22.5 590.6 24.6C593.8 26.7 597.6 28.9 601.2 31.0C604.7 33.0 608.2 35.1 611.8 36.9C615.3 38.7 619.4 40.6 622.4 42.0C625.4 43.4 628.5 44.8 629.8 45.4" fill="none" stroke="#000" stroke-width="1.60" stroke-linejoin="round" stroke-linecap="round"/>
<path d="M315.1 6.6C315.4 6.4 316.1 5.7 317.2 5.1C318.3 4.6 320.2 4.0 321.4 3.4C322.7 2.9 323.7 2.6 324.6 1.9C325.5 1.2 326.4 -0.4 326.7 -0.8" fill="none" stroke="#000" stroke-width="1.60" stroke-linejoin="round" stroke-linecap="round"/>
<path d="M519.6 84.4C519.9 83.7 522.1 82.4 523.8 81.8C525.6 81.3 528.2 81.0 530.2 81.2C532.1 81.4 534.8 82.2 535.5 82.9C536.2 83.6 535.7 85.0 534.4 85.7C533.2 86.3 530.2 86.6 528.1 86.7C525.9 86.8 523.1 86.5 521.7 86.1C520.3 85.7 519.2 85.1 519.6 84.4Z" fill="none" stroke="#a020f0" stroke-width="1.60" stroke-linejoin="round" stroke-linecap="round"/>
</g>
<use href="#frame"/>

</g>
<text transform="translate(842.30 270.75) scale(1 1.045)" font-size="35.00" stroke="#000" stroke-width="0.30">17-Jul to 26-Jul</text>
<g transform="translate(844.80 510.80)">
<g clip-path="url(#pc)">
<rect x="0" y="0" width="633.2" height="140.9" fill="#f7f7f7"/>
<path d="M153.0 -6.9C153.1 -5.6 152.1 -1.2 154.0 1.1C156.0 3.4 160.7 5.2 164.6 6.9C168.5 8.5 172.7 9.7 177.3 11.1C181.9 12.5 187.2 14.1 192.2 15.3C197.1 16.6 202.4 17.8 207.0 18.5C211.6 19.2 215.8 18.5 219.7 19.6C223.6 20.6 226.8 22.6 230.3 24.9C233.8 27.2 237.4 30.9 240.9 33.3C244.4 35.8 247.6 38.5 251.5 39.7C255.4 40.9 260.3 40.1 264.2 40.8C268.1 41.5 271.6 42.2 274.8 43.9C278.0 45.7 280.8 48.7 283.3 51.4C285.8 54.0 287.5 57.4 289.7 59.8C291.8 62.3 294.4 64.5 296.0 66.2C297.6 67.9 299.5 68.8 299.2 69.8C298.8 70.7 296.9 72.0 293.9 71.9C290.9 71.8 285.8 70.3 281.2 69.4C276.6 68.4 271.3 67.2 266.3 66.2C261.4 65.2 256.4 64.0 251.5 63.4C246.6 62.8 241.6 62.5 236.7 62.6C231.7 62.7 226.4 63.1 221.8 64.1C217.2 65.0 212.4 66.5 209.1 68.3C205.9 70.1 203.6 72.6 202.3 74.7C201.1 76.8 200.9 79.1 201.7 81.0C202.5 83.0 204.4 84.6 207.0 86.3C209.7 88.1 213.7 89.9 217.6 91.6C221.5 93.4 226.1 95.0 230.3 96.9C234.6 98.9 238.8 101.2 243.0 103.3C247.3 105.4 251.9 107.5 255.7 109.6C259.6 111.8 263.2 113.9 266.3 116.0C269.5 118.1 272.3 119.9 274.8 122.4C277.3 124.8 279.1 127.8 281.2 130.8C283.3 133.8 285.6 137.2 287.5 140.4C289.5 143.5 291.9 148.3 292.8 149.9L-8.0 148.9L-8.0 -8.0Z" fill="#f6e8c3"/>
<path d="M40.6 149.9C41.0 148.5 41.5 144.3 42.8 141.4C44.0 138.6 45.4 135.4 48.1 132.9C50.7 130.5 54.8 128.7 58.7 126.6C62.5 124.5 66.8 122.4 71.4 120.2C76.0 118.1 81.3 115.6 86.2 113.9C91.2 112.1 97.2 109.8 101.0 109.6C104.9 109.5 106.7 111.0 109.5 112.8C112.3 114.6 114.8 117.6 118.0 120.2C121.2 122.9 125.1 126.1 128.6 128.7C132.1 131.4 136.4 134.0 139.2 136.1C142.0 138.2 143.8 139.1 145.5 141.4C147.3 143.7 149.1 148.5 149.8 149.9Z" fill="#f7f7f7"/>
<path d="M84.1 65.1C84.5 62.8 85.5 59.3 87.3 56.7C89.0 54.0 91.7 51.4 94.7 49.2C97.7 47.1 101.4 45.4 105.3 43.9C109.2 42.5 113.4 41.5 118.0 40.8C122.6 40.1 128.2 39.5 132.8 39.7C137.4 39.9 141.7 40.6 145.5 41.8C149.4 43.1 152.8 45.2 156.1 47.1C159.5 49.1 163.1 51.2 165.7 53.5C168.2 55.8 170.7 58.2 171.4 60.9C172.1 63.5 171.0 66.7 169.9 69.4C168.8 72.0 166.9 74.5 164.6 76.8C162.3 79.1 159.3 81.4 156.1 83.1C153.0 84.9 149.4 86.3 145.5 87.4C141.7 88.4 137.1 89.0 132.8 89.5C128.6 90.0 124.4 90.7 120.1 90.6C115.9 90.4 111.3 89.5 107.4 88.4C103.5 87.4 100.0 86.1 96.8 84.2C93.6 82.3 90.4 79.1 88.3 76.8C86.3 74.5 85.2 72.4 84.5 70.4C83.8 68.5 83.6 67.4 84.1 65.1Z" fill="#f7f7f7"/>
<path d="M51.9 -6.9C51.8 -5.6 51.5 -1.3 51.2 1.1C51.0 3.6 50.7 5.4 50.2 7.9C49.7 10.5 48.9 13.6 48.1 16.4C47.2 19.2 45.9 21.7 44.9 24.9C43.9 28.0 42.7 31.9 42.1 35.5C41.6 39.0 41.2 42.5 41.7 46.1C42.2 49.6 43.5 53.1 44.9 56.7C46.3 60.2 48.4 63.7 50.2 67.3C51.9 70.8 54.0 74.7 55.5 77.8C57.0 81.0 58.9 83.7 59.1 86.3C59.3 89.0 58.2 91.3 56.5 93.7C54.9 96.2 51.9 98.7 49.1 101.2C46.3 103.6 42.9 106.1 39.6 108.6C36.2 111.0 32.2 113.7 29.0 116.0C25.8 118.3 23.0 120.1 20.5 122.4C18.0 124.6 16.1 127.5 14.2 129.8C12.2 132.1 10.3 134.4 8.9 136.1C7.4 137.9 6.6 138.1 5.7 140.4C4.8 142.7 3.9 148.3 3.6 149.9L-8.0 148.9L-8.0 -8.0Z" fill="#dfc27d"/>
<path d="M-7.0 53.5C-5.8 54.0 -1.6 55.6 0.4 56.7C2.3 57.7 3.0 58.2 4.6 59.8C6.2 61.4 8.0 63.9 9.9 66.2C11.9 68.5 14.2 71.1 16.3 73.6C18.4 76.1 21.1 78.9 22.6 81.0C24.1 83.1 25.2 84.4 25.2 86.3C25.2 88.3 24.1 90.6 22.6 92.7C21.1 94.8 18.4 96.7 16.3 99.0C14.2 101.3 11.9 104.3 9.9 106.5C8.0 108.6 6.2 110.3 4.6 111.8C3.0 113.2 2.3 113.9 0.4 114.9C-1.6 116.0 -5.8 117.6 -7.0 118.1Z" fill="#bf812d"/>
<path d="M209.1 149.9C208.6 148.5 207.2 143.7 205.9 141.4C204.7 139.1 203.6 137.9 201.7 136.1C199.8 134.4 196.4 132.5 194.3 130.8C192.2 129.2 190.0 127.6 189.0 126.2C187.9 124.8 187.4 123.5 187.9 122.4C188.5 121.2 189.7 120.0 192.2 119.2C194.6 118.4 198.9 117.9 202.8 117.7C206.6 117.5 211.6 117.5 215.5 118.1C219.4 118.7 222.9 119.9 226.1 121.3C229.3 122.7 232.3 124.8 234.6 126.6C236.8 128.4 238.7 130.1 239.8 131.9C241.0 133.7 241.3 135.8 241.3 137.6C241.3 139.4 240.4 140.4 239.8 142.5C239.2 144.5 238.1 148.7 237.7 149.9Z" fill="#dfc27d"/>
<path d="M530.2 -6.9C529.8 -5.6 529.7 -1.3 528.1 1.1C526.5 3.6 523.1 5.4 520.6 7.9C518.2 10.5 515.3 13.2 513.2 16.4C511.1 19.6 509.3 23.5 507.9 27.0C506.5 30.5 505.8 34.1 504.7 37.6C503.7 41.1 503.0 44.6 501.6 48.2C500.2 51.7 498.2 55.2 496.3 58.8C494.3 62.3 491.9 66.2 489.9 69.4C488.0 72.6 485.7 75.4 484.6 77.8C483.6 80.3 483.2 82.1 483.6 84.2C483.9 86.3 485.1 88.4 486.7 90.6C488.3 92.7 491.0 94.4 493.1 96.9C495.2 99.4 497.3 102.6 499.5 105.4C501.6 108.2 503.7 111.4 505.8 113.9C507.9 116.3 509.3 118.5 512.2 120.2C515.0 122.0 519.6 123.1 522.8 124.5C525.9 125.9 528.4 126.9 531.2 128.7C534.1 130.5 537.4 133.1 539.7 135.1C542.0 137.0 543.4 137.9 545.0 140.4C546.6 142.8 548.5 148.3 549.3 149.9L641.2 148.9L641.2 -8.0Z" fill="#c7eae5"/>
<path d="M542.9 116.0C543.1 114.1 544.8 112.1 547.1 110.7C549.4 109.3 553.3 108.0 556.7 107.5C560.0 107.1 563.9 107.2 567.3 107.9C570.6 108.6 574.3 110.1 576.8 111.8C579.3 113.5 581.2 116.0 582.1 118.1C583.0 120.2 583.2 122.7 582.1 124.5C581.0 126.2 578.6 127.8 575.7 128.7C572.9 129.6 568.7 130.1 565.1 129.8C561.6 129.5 557.7 128.3 554.6 127.0C551.4 125.8 548.0 124.2 546.1 122.4C544.1 120.5 542.7 117.9 542.9 116.0Z" fill="#f7f7f7"/>
<path d="M620.2 -6.9C620.4 -5.6 620.8 -1.2 621.3 1.1C621.8 3.4 622.4 5.3 623.4 6.9C624.5 8.4 626.1 9.6 627.7 10.5C629.3 11.3 630.3 11.4 633.0 11.7C635.6 12.0 641.8 12.1 643.6 12.2L641.2 -8.0Z" fill="#f7f7f7"/>
<use href="#coast"/>
<path d="M99.6 72.6C99.7 70.5 100.4 68.0 102.1 66.2C103.8 64.4 106.2 63.0 109.5 62.0C112.9 60.9 118.2 59.9 122.2 59.8C126.3 59.7 130.7 60.3 133.9 61.3C137.1 62.4 139.8 64.5 141.3 66.2C142.8 67.9 143.2 69.5 143.0 71.5C142.8 73.5 141.9 76.3 140.2 78.3C138.6 80.2 136.2 82.0 132.8 83.1C129.5 84.3 124.2 85.3 120.1 85.3C116.1 85.3 111.6 84.3 108.5 83.1C105.4 82.0 102.9 80.0 101.5 78.3C100.0 76.5 99.5 74.6 99.6 72.6Z" fill="none" stroke="#ff0000" stroke-width="1.60" stroke-linejoin="round" stroke-linecap="round"/>
<path d="M496.9 88.0C497.4 86.7 499.0 84.0 501.6 82.5C504.1 81.0 508.3 79.9 512.2 78.9C516.1 78.0 520.6 77.2 524.9 76.8C529.1 76.3 533.7 76.0 537.6 76.2C541.5 76.3 545.4 76.6 548.2 77.4C550.9 78.2 553.6 79.7 554.1 81.0C554.7 82.3 553.4 84.0 551.4 85.3C549.3 86.6 545.5 87.8 541.8 88.9C538.1 89.9 533.4 90.9 529.1 91.6C524.9 92.3 520.5 92.9 516.4 93.1C512.3 93.3 507.8 93.1 504.7 92.7C501.7 92.3 499.7 91.3 498.4 90.6C497.1 89.8 496.4 89.4 496.9 88.0Z" fill="none" stroke="#a020f0" stroke-width="1.60" stroke-linejoin="round" stroke-linecap="round"/>
<path d="M635.1 33.3C634.2 33.9 631.5 35.3 629.8 36.5C628.0 37.8 626.3 38.8 624.5 40.8C622.7 42.7 621.0 45.5 619.2 48.2C617.4 50.8 615.8 53.7 613.9 56.7C611.9 59.7 609.7 63.0 607.5 66.2C605.4 69.4 603.1 72.6 601.2 75.7C599.2 78.9 597.3 82.1 595.9 85.3C594.5 88.4 593.3 91.6 592.7 94.8C592.1 98.0 591.9 101.2 592.3 104.3C592.6 107.5 593.5 110.5 594.8 113.9C596.1 117.2 598.2 121.1 600.1 124.5C602.1 127.8 604.6 131.4 606.5 134.0C608.3 136.7 610.1 138.6 611.3 140.4C612.6 142.1 613.5 143.9 613.9 144.6" fill="none" stroke="#000" stroke-width="1.60" stroke-linejoin="round" stroke-linecap="round"/>
</g>
<use href="#frame"/>

</g>
<text transform="translate(842.30 496.30) scale(1 1.045)" font-size="35.00" stroke="#000" stroke-width="0.30">27-Jul to 5-Aug</text>
<g transform="translate(844.80 743.55)">
<g clip-path="url(#pc)">
<rect x="0" y="0" width="633.2" height="140.9" fill="#f7f7f7"/>
<path d="M19.5 -7.7C19.5 -6.3 19.6 -2.4 19.5 0.8C19.3 4.0 18.7 7.5 18.4 11.4C18.0 15.3 17.7 19.9 17.3 24.1C17.0 28.4 16.4 32.6 16.3 36.8C16.1 41.1 15.9 45.3 16.3 49.5C16.6 53.8 17.0 58.4 18.4 62.3C19.8 66.1 22.7 69.7 24.7 72.9C26.8 76.0 29.4 78.9 30.7 81.3C32.0 83.8 32.7 85.2 32.6 87.7C32.5 90.2 31.4 93.5 30.0 96.2C28.7 98.8 26.7 101.1 24.7 103.6C22.8 106.1 20.9 108.7 18.4 111.0C15.9 113.3 12.9 115.6 9.9 117.4C6.9 119.1 3.2 120.5 0.4 121.6C-2.4 122.7 -5.8 123.7 -7.0 124.1L-8.0 -8.0Z" fill="#f6e8c3"/>
<path d="M-4.9 80.3C-4.0 80.6 -1.0 81.5 0.4 82.4C1.8 83.3 3.0 84.2 3.6 85.6C4.2 87.0 4.5 89.1 4.0 90.9C3.5 92.6 1.9 94.9 0.4 96.2C-1.1 97.4 -4.0 97.9 -4.9 98.3Z" fill="#dfc27d"/>
<path d="M174.2 149.2C173.6 147.7 172.6 143.1 171.0 140.7C169.4 138.2 166.7 136.4 164.6 134.3C162.6 132.2 159.9 129.9 158.7 128.0C157.4 126.0 157.1 124.6 157.2 122.7C157.3 120.7 157.7 118.2 159.3 116.3C160.9 114.4 163.4 112.3 166.7 111.0C170.1 109.7 174.9 108.6 179.5 108.5C184.0 108.3 189.3 109.0 194.3 109.9C199.2 110.9 204.2 112.6 209.1 114.2C214.1 115.8 219.0 117.5 224.0 119.5C228.9 121.4 234.2 123.7 238.8 125.8C243.4 128.0 247.6 130.4 251.5 132.2C255.4 134.0 259.1 135.4 262.1 136.9C265.1 138.3 266.3 138.6 269.5 140.7C272.7 142.7 279.2 147.7 281.2 149.2Z" fill="#f6e8c3"/>
<use href="#coast"/>
<path d="M498.4 87.7C498.7 86.5 500.3 84.3 502.6 83.0C504.9 81.8 508.6 80.9 512.2 80.3C515.7 79.6 519.9 79.3 523.8 79.2C527.7 79.1 532.5 79.1 535.5 79.6C538.4 80.2 540.7 81.2 541.4 82.4C542.1 83.6 541.4 85.5 539.7 86.6C538.0 87.8 534.4 88.6 531.2 89.4C528.1 90.2 524.5 91.1 520.6 91.5C516.8 91.9 511.3 92.1 507.9 91.9C504.6 91.7 502.1 90.9 500.5 90.2C498.9 89.5 498.0 88.9 498.4 87.7Z" fill="none" stroke="#a020f0" stroke-width="1.60" stroke-linejoin="round" stroke-linecap="round"/>
</g>
<use href="#frame"/>

</g>
<text transform="translate(842.30 729.05) scale(1 1.045)" font-size="35.00" stroke="#000" stroke-width="0.30">6-Aug to 15-Aug</text>
<text transform="translate(736.70 38.00) scale(1 1.045)" font-size="35.00" text-anchor="end" stroke="#000" stroke-width="0.30">Observed</text>
<text transform="translate(1478.70 37.60) scale(1 1.045)" font-size="35.00" text-anchor="end" stroke="#000" stroke-width="0.30">CFS Forecast</text>
<text transform="translate(101.10 939.80) scale(1 1.045)" font-size="34.40" text-anchor="middle" stroke="#000" stroke-width="0.30">180</text>
<text transform="translate(312.17 939.80) scale(1 1.045)" font-size="34.40" text-anchor="middle" stroke="#000" stroke-width="0.30">120W</text>
<text transform="translate(523.23 939.80) scale(1 1.045)" font-size="34.40" text-anchor="middle" stroke="#000" stroke-width="0.30">60W</text>
<text transform="translate(734.30 939.80) scale(1 1.045)" font-size="34.40" text-anchor="middle" stroke="#000" stroke-width="0.30">0</text>
<text transform="translate(843.60 939.80) scale(1 1.045)" font-size="34.40" text-anchor="middle" stroke="#000" stroke-width="0.30">180</text>
<text transform="translate(1054.67 939.80) scale(1 1.045)" font-size="34.40" text-anchor="middle" stroke="#000" stroke-width="0.30">120W</text>
<text transform="translate(1265.73 939.80) scale(1 1.045)" font-size="34.40" text-anchor="middle" stroke="#000" stroke-width="0.30">60W</text>
<text transform="translate(1476.80 939.80) scale(1 1.045)" font-size="34.40" text-anchor="middle" stroke="#000" stroke-width="0.30">0</text>
<rect x="229.95" y="1002.50" width="54.75" height="23.00" fill="#543005" stroke="#000" stroke-width="1.1"/>
<rect x="284.70" y="1002.50" width="54.75" height="23.00" fill="#8c510a" stroke="#000" stroke-width="1.1"/>
<rect x="339.45" y="1002.50" width="54.75" height="23.00" fill="#bf812d" stroke="#000" stroke-width="1.1"/>
<rect x="394.20" y="1002.50" width="54.75" height="23.00" fill="#dfc27d" stroke="#000" stroke-width="1.1"/>
<rect x="448.95" y="1002.50" width="54.75" height="23.00" fill="#f6e8c3" stroke="#000" stroke-width="1.1"/>
<rect x="503.70" y="1002.50" width="54.75" height="23.00" fill="#f7f7f7" stroke="#000" stroke-width="1.1"/>
<rect x="558.45" y="1002.50" width="54.75" height="23.00" fill="#c7eae5" stroke="#000" stroke-width="1.1"/>
<rect x="613.20" y="1002.50" width="54.75" height="23.00" fill="#80cdc1" stroke="#000" stroke-width="1.1"/>
<rect x="667.95" y="1002.50" width="54.75" height="23.00" fill="#35978f" stroke="#000" stroke-width="1.1"/>
<rect x="722.70" y="1002.50" width="54.75" height="23.00" fill="#01665e" stroke="#000" stroke-width="1.1"/>
<rect x="777.45" y="1002.50" width="54.75" height="23.00" fill="#003c30" stroke="#000" stroke-width="1.1"/>
<rect x="229.95" y="1002.50" width="602.25" height="23.00" fill="none" stroke="#000" stroke-width="1.3"/>
<text transform="translate(284.40 1054.60) scale(1 1.045)" font-size="30.00" text-anchor="middle" stroke="#000" stroke-width="0.30">-5</text>
<text transform="translate(339.15 1054.60) scale(1 1.045)" font-size="30.00" text-anchor="middle" stroke="#000" stroke-width="0.30">-4</text>
<text transform="translate(393.90 1054.60) scale(1 1.045)" font-size="30.00" text-anchor="middle" stroke="#000" stroke-width="0.30">-3</text>
<text transform="translate(448.65 1054.60) scale(1 1.045)" font-size="30.00" text-anchor="middle" stroke="#000" stroke-width="0.30">-2</text>
<text transform="translate(503.40 1054.60) scale(1 1.045)" font-size="30.00" text-anchor="middle" stroke="#000" stroke-width="0.30">-1</text>
<text transform="translate(558.15 1054.60) scale(1 1.045)" font-size="30.00" text-anchor="middle" stroke="#000" stroke-width="0.30">1</text>
<text transform="translate(612.90 1054.60) scale(1 1.045)" font-size="30.00" text-anchor="middle" stroke="#000" stroke-width="0.30">2</text>
<text transform="translate(667.65 1054.60) scale(1 1.045)" font-size="30.00" text-anchor="middle" stroke="#000" stroke-width="0.30">3</text>
<text transform="translate(722.40 1054.60) scale(1 1.045)" font-size="30.00" text-anchor="middle" stroke="#000" stroke-width="0.30">4</text>
<text transform="translate(777.15 1054.60) scale(1 1.045)" font-size="30.00" text-anchor="middle" stroke="#000" stroke-width="0.30">5</text>
<text transform="translate(853.10 1040.10) scale(1 1.045)" font-size="30.30" stroke="#000" stroke-width="0.30">x10^6 m2 s-1</text>
<text transform="translate(207.60 1111.60) scale(1 1.045)" font-size="51.50" stroke="#000" stroke-width="0.45">10-day CHI850 with CFS forecasts</text>
<text transform="translate(3.80 1148.20) scale(1 1.045)" font-size="20.70" stroke="#000" stroke-width="0.25">monitor.cicsnc.org/mjo</text>
<text transform="translate(669.20 1148.10) scale(1 1.045)" font-size="14.40" stroke="#000" stroke-width="0.20">Thu 2016-07-07 1040 UTC</text>
<text transform="translate(1506.60 1148.40) scale(1 1.045)" font-size="20.70" text-anchor="end" stroke="#000" stroke-width="0.25">Carl Schreck (cjschrec@ncsu.edu)</text>
<g stroke-width="2.1" fill="none" stroke-linecap="round"><path d="M1089 1002.5H1157.5" stroke="#000"/><path d="M1314 1002.5H1380" stroke="#0000ff"/><path d="M1089 1043.2H1157.5" stroke="#a020f0"/><path d="M1314 1043.2H1380" stroke="#ff0000"/></g>
<text transform="translate(1170.60 1012.80) scale(1 1.045)" font-size="28.30" stroke="#000" stroke-width="0.30">MJO</text>
<text transform="translate(1391.80 1012.50) scale(1 1.045)" font-size="27.20" stroke="#000" stroke-width="0.30">Kelvin x2</text>
<text transform="translate(1170.90 1053.30) scale(1 1.045)" font-size="27.60" stroke="#000" stroke-width="0.30">Low</text>
<text transform="translate(1391.60 1053.10) scale(1 1.045)" font-size="27.00" stroke="#000" stroke-width="0.30">ER</text>
<text transform="translate(1083.50 1090.70) scale(1 1.045)" font-size="26.60" stroke="#000" stroke-width="0.30">Contours at 1, 3 x10^6 m2 s-1</text>
<defs>
<radialGradient id="lgsky" cx="79.6" cy="1035.3" r="75.4" gradientUnits="userSpaceOnUse"><stop offset="0" stop-color="#2b86c6"/><stop offset="0.45" stop-color="#2874c0"/><stop offset="0.8" stop-color="#2753b0"/><stop offset="1" stop-color="#2a3d9f"/></radialGradient>
<linearGradient id="lgmt" x1="0" y1="1045" x2="0" y2="1115" gradientUnits="userSpaceOnUse"><stop offset="0" stop-color="#2e3194"/><stop offset="0.5" stop-color="#2c3a9e"/><stop offset="0.8" stop-color="#2462b8"/><stop offset="1" stop-color="#1f7fcf"/></linearGradient>
<linearGradient id="lggold" x1="0" y1="1066" x2="0" y2="1092" gradientUnits="userSpaceOnUse"><stop offset="0" stop-color="#f9e2a0"/><stop offset="0.55" stop-color="#f1bf62"/><stop offset="1" stop-color="#e79a33"/></linearGradient>
<radialGradient id="lgsun" cx="0.5" cy="0.5" r="0.5"><stop offset="0" stop-color="#f5b340"/><stop offset="0.55" stop-color="#efa632"/><stop offset="0.62" stop-color="#e8c9a0" stop-opacity="0.55"/><stop offset="1" stop-color="#9db7e0" stop-opacity="0"/></radialGradient>
<clipPath id="lgclip"><circle cx="84.6" cy="1043.3" r="71.4"/></clipPath>
<path id="lgarc" d="M25.55 1056.93 A60.60 60.60 0 1 1 144.75 1035.91"/>
<path id="lgs1" d="M35.78 1049.40 A47.00 47.00 0 1 1 121.10 1072.26"/>
<path id="lgs2" d="M53.23 1056.53 A27.00 27.00 0 1 1 99.28 1064.66"/>
<path id="lgs3" d="M64.21 1055.30 A12.00 12.00 0 0 1 84.99 1043.30"/>
</defs>
<g clip-path="url(#lgclip)">
<circle cx="84.6" cy="1043.3" r="71.4" fill="url(#lgsky)"/>
<g font-size="4.6" style="letter-spacing:0.1px" opacity="0.42"><text style="fill:#b9d3f2"><textPath href="#lgs1">10100111010010011100101001101001011101001001110010100110100101110100100111001010011010011010011101001001110010100110100101110100100111001010011010010111010010011100101001101001</textPath></text><text style="fill:#b9d3f2"><textPath href="#lgs2">1010011101001001110010100110100101110100100111001010011010010111010010011100101001101001</textPath></text><text style="fill:#b9d3f2"><textPath href="#lgs3">101001110100100111001010011010</textPath></text></g>
<circle cx="138.1" cy="1040.0" r="9" fill="url(#lgsun)"/>
<path d="M13.7 1060.9 L17.1 1062.6 L22.2 1064.6 L28.2 1063.4 L34.2 1059.1 L41.0 1054.4 L45.3 1059.1 L49.6 1063.4 L53.8 1060.9 L59.0 1064.3 L64.1 1067.7 L69.2 1062.6 L75.2 1054.0 L82.9 1045.1 L88.9 1052.3 L94.9 1059.1 L100.9 1062.2 L106.0 1057.4 L111.1 1051.5 L115.4 1057.4 L119.7 1063.4 L123.1 1058.3 L127.4 1052.3 L135.0 1047.2 L141.9 1042.1 L148.7 1037.8 L154.7 1033.5 L158.1 1030.9 L170 1130 L0 1130 Z" fill="url(#lgmt)"/>
<path d="M13.7 1060.9 L17.1 1062.6 L22.2 1064.6 L28.2 1063.4 L34.2 1059.1 L41.0 1054.4 L45.3 1059.1 L49.6 1063.4 L53.8 1060.9 L59.0 1064.3 L64.1 1067.7 L69.2 1062.6 L75.2 1054.0 L82.9 1045.1 L88.9 1052.3 L94.9 1059.1 L100.9 1062.2 L106.0 1057.4 L111.1 1051.5 L115.4 1057.4 L119.7 1063.4 L123.1 1058.3 L127.4 1052.3 L135.0 1047.2 L141.9 1042.1 L148.7 1037.8 L154.7 1033.5 L158.1 1030.9" fill="none" stroke="#e8312a" stroke-width="1.1" stroke-linejoin="round"/>
</g>
<text x="31.2" y="1090.8" font-size="36" textLength="103.5" lengthAdjust="spacingAndGlyphs" style="fill:url(#lggold)">cics.nc</text>
<text font-size="9.2" style="fill:#fff" textLength="197" lengthAdjust="spacing"><textPath href="#lgarc" textLength="197" lengthAdjust="spacing">Cooperative Institute for Climate and Satellites</textPath></text>
</svg></body></html>
